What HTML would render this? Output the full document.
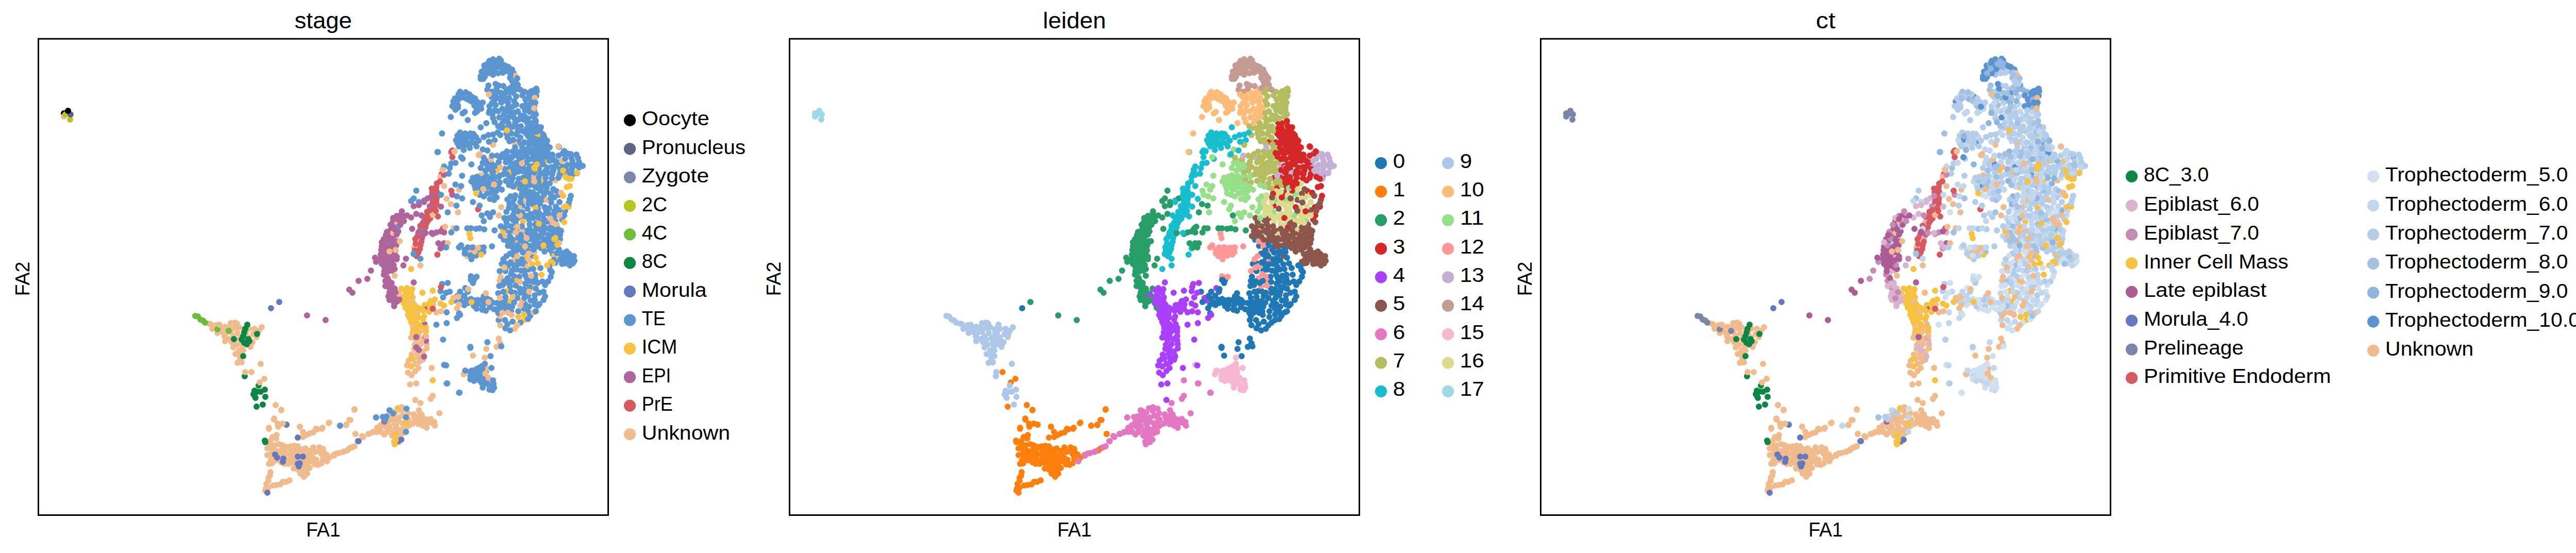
<!DOCTYPE html><html><head><meta charset="utf-8"><style>html,body{margin:0;padding:0;background:#fff;width:5045px;height:1073px;overflow:hidden}svg{display:block}</style></head><body><svg width="5045" height="1073" viewBox="0 0 5045 1073" font-family='"Liberation Sans", sans-serif' fill="#000"><defs><clipPath id="c0"><rect x="74.5" y="75.3" width="1106" height="924.2"/></clipPath><clipPath id="c1"><rect x="1532.5" y="75.3" width="1106" height="924.2"/></clipPath><clipPath id="c2"><rect x="2990.5" y="75.3" width="1106" height="924.2"/></clipPath></defs><g clip-path="url(#c0)" fill="none" stroke-width="12" stroke-linecap="round"><path stroke="#6cbd3a" d="M384 614h0"/><path stroke="#5b96d0" d="M1007 232h0M961 357h0M930 361h0M957 115h0M887 192h0M995 207h0M1024 476h0M920 719h0M1038 582h0M926 483h0M955 178h0M1049 481h0M1039 199h0M1028 255h0M1085 315h0M1082 504h0M927 582h0M1000 170h0M1063 296h0M1078 510h0M940 445h0M1003 261h0M1011 224h0M1034 460h0M842 408h0M996 164h0M1015 490h0M983 174h0M918 734h0M956 125h0M1019 590h0M1002 187h0M992 353h0M994 305h0M988 250h0M1041 256h0M1004 424h0M934 211h0M990 556h0M972 180h0M754 469h0M1011 525h0M976 135h0M1041 287h0M1041 186h0M890 183h0M979 233h0M889 205h0M1048 395h0M998 229h0M1061 372h0M925 716h0M970 191h0M925 599h0M958 745h0M968 166h0M939 588h0M1040 478h0M970 354h0M951 346h0M1014 399h0M803 493h0M969 114h0M1028 217h0M986 199h0M1008 537h0M947 588h0M1118 321h0M963 121h0M1072 338h0M1073 493h0M977 338h0M1003 245h0M985 540h0M954 317h0M972 586h0M1035 374h0M1018 178h0M1002 173h0M995 294h0M918 493h0M914 536h0M998 386h0M965 302h0M1021 363h0M1014 286h0M1001 489h0M909 281h0M989 342h0M939 381h0M965 179h0M950 749h0M1054 283h0M1033 187h0M956 757h0M1078 429h0M1030 193h0M939 575h0M1131 322h0M1041 172h0M1014 305h0M984 597h0M1006 333h0M1026 279h0M968 621h0M927 198h0M1067 445h0M1019 533h0M924 444h0M943 603h0M990 492h0M1008 312h0M1028 545h0M1041 314h0M947 363h0M1020 330h0M1046 327h0M1039 392h0M998 536h0M959 136h0M913 259h0M1072 300h0M1032 477h0M962 204h0M902 268h0M946 743h0M977 600h0M1020 193h0M984 294h0M946 174h0M1038 260h0M1033 390h0M917 725h0M967 569h0M1025 605h0M889 209h0M1050 447h0M1050 277h0M1028 323h0M920 594h0M1066 404h0M1122 307h0M896 278h0M948 166h0M911 491h0M950 215h0M1061 281h0M1029 359h0M1028 345h0M1031 177h0M956 336h0M982 138h0M931 713h0M1015 345h0M1038 573h0M1027 186h0M1006 275h0M951 386h0M1005 165h0M1027 337h0M970 526h0M1115 506h0M1020 448h0M943 722h0"/><path stroke="#b0649c" d="M781 418h0M747 488h0M765 457h0M770 498h0M746 518h0M759 445h0M765 594h0M761 525h0M760 549h0M771 585h0M841 379h0M758 478h0M774 575h0M763 483h0M756 582h0M752 516h0M757 501h0M741 478h0M761 473h0M834 400h0"/><path stroke="#d65a62" d="M819 447h0M809 497h0M850 420h0M847 388h0M840 392h0"/><path stroke="#f0bb8d" d="M806 706h0M437 634h0M547 880h0M805 669h0M486 673h0M999 279h0M666 877h0M498 654h0M581 877h0M933 340h0M843 819h0M828 668h0M822 689h0M453 674h0M943 715h0M814 702h0M769 836h0M576 893h0M799 728h0M812 649h0M773 818h0M765 857h0M799 688h0M569 886h0M970 545h0M522 900h0M783 806h0M586 872h0M569 878h0M1002 469h0M618 902h0M474 655h0M464 680h0M970 613h0M608 839h0M804 808h0M603 895h0M1078 350h0M555 935h0M537 875h0M468 688h0M775 851h0M777 834h0M746 820h0M793 814h0M596 903h0M628 877h0M814 806h0M555 881h0M806 720h0M586 898h0"/><path stroke="#f7c242" d="M797 598h0M801 651h0M787 583h0M1002 545h0M779 583h0M1041 337h0M965 331h0M810 610h0M827 643h0M776 575h0M801 577h0M783 576h0M787 597h0M1057 480h0M807 624h0M808 634h0M1017 621h0M1072 440h0"/><path stroke="#6cbd3a" d="M389 620h0"/><path stroke="#5b96d0" d="M1025 573h0M1087 464h0M978 465h0M922 278h0M970 341h0M1010 568h0M978 222h0M1056 452h0M986 477h0M901 282h0M969 123h0M1002 452h0M1039 533h0M1055 464h0M1075 451h0M969 228h0M1077 446h0M1082 417h0M1005 254h0M1099 344h0M1052 296h0M935 743h0M980 328h0M1086 408h0M1029 272h0M997 495h0M941 706h0M1085 484h0M901 592h0M1019 371h0M1012 280h0M1036 548h0M1054 387h0M1039 363h0M986 516h0M1025 351h0M981 511h0M985 629h0M1022 380h0M1044 405h0M1018 276h0M944 341h0M1079 322h0M1028 464h0M1019 470h0M952 128h0M940 127h0M1043 473h0M996 427h0M993 545h0M983 431h0M1050 266h0M972 458h0M1004 484h0M962 163h0M1038 591h0M1021 341h0M1037 385h0M979 546h0M976 141h0M979 423h0M989 179h0M936 716h0M1074 331h0M1056 293h0M967 362h0M1057 488h0M964 172h0M1039 437h0M1049 431h0M926 216h0M936 710h0M931 443h0M1050 247h0M1084 302h0M1008 295h0M960 237h0M967 607h0M994 525h0M1043 442h0M994 135h0M998 219h0M992 604h0M1023 387h0M991 381h0M1099 330h0M957 229h0M974 512h0M989 139h0M1000 286h0M990 325h0M1047 385h0M956 587h0M956 221h0M1071 346h0M938 153h0M1035 183h0M949 356h0M1040 252h0M1027 180h0M1006 461h0M1062 325h0M983 497h0M937 595h0M1026 523h0M942 352h0M924 496h0M1027 207h0M1002 297h0M956 122h0M1124 315h0M957 145h0M895 271h0M1037 281h0M974 248h0M979 195h0M989 214h0M1067 286h0M915 503h0M938 489h0M959 388h0M1056 378h0M976 125h0M987 228h0M1049 288h0M1050 370h0M930 738h0M991 222h0M915 352h0M1035 226h0M944 239h0M945 579h0M1091 426h0M1037 175h0M986 451h0M924 735h0M984 590h0M888 278h0M937 752h0M980 621h0M1042 378h0M1070 461h0M1035 397h0M964 321h0M1006 604h0M1113 337h0M967 216h0"/><path stroke="#b0649c" d="M761 463h0M766 560h0M754 544h0M765 468h0M745 464h0M770 419h0M782 424h0M775 581h0M766 436h0M824 629h0M759 519h0M763 429h0M758 458h0M827 661h0M754 575h0M748 545h0M773 449h0M766 522h0M741 512h0M748 469h0M757 451h0M751 483h0M812 452h0M761 564h0M746 502h0"/><path stroke="#d65a62" d="M847 385h0M816 476h0M823 422h0"/><path stroke="#f0bb8d" d="M812 823h0M525 855h0M521 946h0M590 925h0M593 870h0M526 893h0M653 880h0M828 830h0M521 927h0M620 868h0M492 648h0M517 939h0M571 865h0M836 820h0M565 873h0M466 656h0M544 940h0M771 432h0M808 660h0M828 676h0M593 896h0M553 874h0M516 948h0M469 665h0M1008 403h0M583 919h0M589 918h0M525 916h0M547 887h0M746 843h0M601 875h0M461 646h0M422 646h0M594 912h0M590 905h0M546 897h0M1035 558h0M412 638h0M578 911h0M456 660h0M819 658h0M760 798h0M998 505h0M437 662h0M448 627h0M459 669h0M634 882h0M469 703h0M804 480h0M519 870h0M436 653h0M752 838h0M601 841h0M562 932h0M1091 312h0M619 875h0M792 802h0M820 682h0M578 866h0M971 324h0M810 687h0M763 452h0M981 457h0M813 694h0M420 631h0M616 833h0M787 835h0M597 888h0M781 841h0M582 889h0"/><path stroke="#f7c242" d="M976 449h0M990 334h0M801 645h0M980 587h0M784 589h0M1058 313h0M1076 496h0M824 592h0M772 792h0M802 637h0M984 565h0M1003 363h0M827 636h0"/><path stroke="#6cbd3a" d="M379 613h0M394 622h0"/><path stroke="#5b96d0" d="M964 588h0M1047 306h0M1021 259h0M1063 430h0M1084 345h0M994 595h0M914 580h0M916 268h0M946 124h0M998 515h0M1050 473h0M788 810h0M1094 506h0M893 257h0M945 137h0M1017 463h0M1077 312h0M961 131h0M988 403h0M986 598h0M1112 511h0M1080 371h0M920 543h0M1030 248h0M996 322h0M937 316h0M1018 354h0M933 148h0M972 439h0M1014 332h0M1010 267h0M985 387h0M1035 322h0M960 194h0M1048 255h0M978 588h0M884 213h0M968 599h0M988 423h0M1056 426h0M883 583h0M1017 599h0M1074 367h0M1044 422h0M1011 358h0M932 724h0M1029 330h0M969 130h0M1043 294h0M926 722h0M1074 480h0M991 509h0M990 171h0M960 214h0M1086 392h0M912 721h0M908 588h0M981 526h0M1059 443h0M967 245h0M1109 500h0M950 206h0M1028 295h0M1062 304h0M1090 497h0M1020 508h0M1043 464h0M1039 233h0M1030 383h0M980 594h0M961 186h0M969 555h0M959 350h0M1110 328h0M1068 485h0M1040 434h0M959 343h0M977 503h0M971 130h0M916 188h0M1030 415h0M946 313h0M773 440h0M893 566h0M925 352h0M980 441h0M1040 245h0M997 142h0M1018 225h0M1048 264h0M1041 302h0M1002 203h0M1026 287h0M1030 239h0M891 284h0M918 549h0M1049 336h0M1095 418h0M925 210h0M1033 496h0M1001 554h0M1025 487h0M972 305h0M981 576h0M948 328h0M1040 295h0M968 343h0M939 361h0M1035 279h0M1003 162h0M931 378h0M989 396h0M1047 253h0M1009 560h0M959 752h0M1025 264h0M1064 477h0M906 582h0M1057 338h0M1101 320h0M903 259h0M1038 286h0M1109 345h0M967 142h0M996 180h0M1006 505h0M972 117h0M1011 467h0M1075 419h0M1053 260h0M1067 312h0M928 489h0M1042 457h0M982 583h0M1002 445h0M951 582h0M946 375h0M1049 458h0M1046 319h0M896 586h0M1058 442h0M935 368h0M993 471h0M913 730h0M1025 454h0M905 274h0M990 314h0M954 188h0M1014 412h0M1094 338h0"/><path stroke="#b0649c" d="M748 494h0M770 503h0M764 499h0M766 493h0M775 419h0M765 588h0M756 559h0M750 507h0M764 514h0M770 455h0M755 550h0"/><path stroke="#d65a62" d="M835 424h0M805 486h0M826 441h0M857 338h0M829 411h0M815 483h0M806 464h0M810 459h0M844 416h0M839 373h0M848 356h0"/><path stroke="#f0bb8d" d="M775 810h0M537 844h0M627 871h0M814 814h0M564 866h0M801 631h0M1081 436h0M591 881h0M753 822h0M891 591h0M448 644h0M624 899h0M811 604h0M828 822h0M1037 346h0M440 645h0M821 698h0M537 893h0M779 797h0M595 844h0M460 628h0M536 851h0M1000 147h0M1021 517h0M780 790h0M766 822h0M841 591h0M680 869h0M999 638h0M993 611h0M674 874h0M1083 498h0M529 870h0M1013 584h0M806 815h0M406 628h0M971 631h0M647 883h0M556 867h0M548 864h0M549 935h0M445 636h0M552 900h0M596 919h0M521 933h0M530 886h0M445 658h0M761 845h0M494 638h0M979 519h0M466 695h0M804 650h0M911 484h0M1009 547h0M547 873h0M942 728h0M464 635h0M767 849h0M732 838h0M1013 449h0M844 826h0M763 836h0M607 888h0M502 642h0M537 941h0"/><path stroke="#f7c242" d="M1033 513h0M805 601h0M1053 353h0M1021 500h0M1017 610h0M790 559h0M779 560h0M812 629h0M800 561h0M811 597h0M1006 615h0M792 564h0M798 711h0M1043 263h0M792 611h0M800 607h0M1039 404h0M836 584h0M817 634h0M934 494h0"/><path stroke="#6cbd3a" d="M398 626h0"/><path stroke="#5b96d0" d="M1071 324h0M893 178h0M1013 503h0M1064 335h0M1087 456h0M900 291h0M1036 176h0M957 333h0M1059 297h0M1027 595h0M995 465h0M1037 256h0M953 130h0M936 732h0M906 192h0M1057 402h0M1006 323h0M1109 306h0M992 532h0M1042 441h0M923 367h0M1026 395h0M1032 453h0M999 568h0M926 343h0M998 337h0M1067 356h0M1106 515h0M1050 447h0M1010 366h0M1034 181h0M908 265h0M1051 362h0M1004 578h0M902 485h0M1055 305h0M1081 491h0M982 216h0M1005 303h0M982 351h0M951 596h0M1062 464h0M1120 336h0M1100 497h0M972 124h0M1079 401h0M1021 203h0M1097 308h0M1104 504h0M959 377h0M959 600h0M921 360h0M993 259h0M1014 185h0M987 304h0M933 153h0M933 205h0M1041 244h0M921 205h0M789 793h0M990 641h0M922 191h0M1102 298h0M1017 292h0M1011 456h0M1023 297h0M990 459h0M1016 232h0M956 367h0M915 277h0M996 417h0M1061 365h0M1004 476h0M1037 468h0M1075 504h0M1061 289h0M990 151h0M1097 409h0M994 479h0M1059 356h0M1022 315h0M1044 365h0M958 122h0M968 600h0M983 259h0M1014 512h0M975 211h0M1037 269h0M982 315h0M985 468h0M942 736h0M1028 435h0M1069 376h0M1069 441h0M1047 272h0M1085 378h0M1035 292h0M996 448h0M1086 338h0M1048 297h0M1076 383h0M1055 262h0M908 566h0M1023 238h0M1000 379h0M940 136h0M976 299h0M1018 525h0M1010 174h0M1052 275h0M984 338h0M1114 497h0M995 393h0M885 272h0M942 331h0M1004 152h0M939 306h0M918 345h0M981 307h0M973 199h0M945 320h0M975 239h0M901 574h0M1045 353h0M998 408h0M987 549h0M1065 415h0M1022 419h0M1105 493h0M900 189h0M941 149h0M1015 422h0M1039 412h0M1025 619h0M1124 325h0M1046 344h0M1002 523h0M933 353h0M927 729h0M1029 613h0M1082 451h0M1017 561h0M1058 332h0M1097 511h0M1086 491h0M995 624h0M1004 356h0M977 167h0M1027 426h0M925 537h0M974 368h0"/><path stroke="#b0649c" d="M819 462h0M747 476h0M739 494h0M828 600h0M770 425h0M760 574h0M756 509h0M761 505h0M763 423h0M776 428h0M766 445h0M753 462h0M760 555h0M821 432h0M752 539h0M751 450h0M777 436h0M767 574h0M769 476h0M844 400h0M771 468h0M749 456h0M826 653h0"/><path stroke="#d65a62" d="M847 363h0M807 473h0M850 380h0M829 418h0M845 379h0M848 373h0M840 386h0M831 428h0"/><path stroke="#f0bb8d" d="M574 874h0M528 878h0M774 570h0M802 696h0M949 183h0M907 497h0M756 828h0M1004 497h0M1026 492h0M570 909h0M530 942h0M456 636h0M793 826h0M972 537h0M590 889h0M921 488h0M1094 402h0M855 343h0M1027 505h0M450 664h0M471 672h0M948 733h0M553 891h0M1009 418h0M801 822h0M461 704h0M740 838h0M840 417h0M774 858h0M1068 424h0M828 814h0M859 329h0M453 653h0M472 680h0M790 709h0M995 575h0M766 812h0M1061 388h0M1036 606h0M772 843h0M953 309h0M1038 190h0M1085 472h0M540 881h0M821 811h0M1037 489h0M639 888h0M586 912h0M473 639h0M602 882h0M800 584h0M1016 389h0M490 664h0M528 899h0M816 668h0M483 655h0M1010 593h0M481 666h0M542 862h0M757 815h0M533 864h0M781 821h0"/><path stroke="#f7c242" d="M1015 430h0M991 584h0M809 650h0M1040 500h0M812 678h0M793 589h0M795 617h0M792 602h0M798 568h0M788 571h0M791 578h0M803 616h0M785 563h0M817 600h0"/><path stroke="#5b96d0" d="M887 199h0M981 249h0M1000 401h0M1068 470h0M1001 316h0M955 200h0M914 443h0M1011 245h0M1028 444h0M987 239h0M1031 199h0M991 146h0M940 745h0M1039 541h0M1057 268h0M988 359h0M919 260h0M1054 319h0M1037 309h0M955 302h0M1076 471h0M902 492h0M1111 313h0M1032 265h0M977 189h0M927 590h0M1010 392h0M1000 238h0M992 566h0M904 179h0M903 559h0M1005 216h0M1106 338h0M1027 181h0M925 284h0M929 273h0M936 601h0M950 756h0M950 142h0M1062 273h0M933 247h0M990 595h0M977 566h0M913 496h0M972 594h0M981 637h0M1018 578h0M1092 324h0M1092 298h0M1012 485h0M892 191h0M1060 289h0M816 444h0M994 157h0M1020 550h0M1087 328h0M961 124h0M1035 522h0M917 198h0M935 139h0M1018 297h0M1013 439h0M912 287h0M1072 306h0M1014 206h0M1069 385h0M1037 215h0M1037 335h0M953 374h0M1100 488h0M1045 294h0M1110 320h0M998 196h0M1065 456h0M1034 299h0M985 267h0M880 197h0M1030 583h0M1076 410h0M1091 512h0M983 411h0M950 118h0M1007 347h0M1037 206h0M1013 376h0M941 142h0M982 128h0M980 181h0M1054 418h0M1057 473h0M996 271h0M989 274h0M995 346h0M1022 539h0M1036 484h0M920 583h0M968 314h0M1028 557h0M948 133h0M1057 279h0M1059 345h0M1015 324h0M1042 177h0M1037 355h0M1094 491h0M898 186h0M1042 271h0M914 543h0M998 486h0M1019 214h0M911 183h0M1025 230h0M912 195h0M1029 309h0M1052 312h0M997 330h0M1060 409h0M1054 437h0M1084 445h0M949 124h0M998 587h0M935 582h0M966 119h0M888 263h0M1011 383h0M996 362h0M1048 288h0M1048 298h0M1005 513h0M995 246h0M893 580h0M964 383h0M1024 405h0M991 439h0M924 266h0M1015 478h0M1013 254h0M1001 434h0M907 443h0M1089 448h0M957 738h0M986 207h0M1028 372h0M976 553h0M915 587h0M1010 626h0M888 574h0M987 130h0M1038 448h0M963 371h0M1040 275h0M932 481h0M988 190h0M1035 423h0M1018 569h0M883 191h0M936 347h0M957 324h0M896 264h0M1022 304h0M1042 283h0M1070 393h0M1088 503h0M1023 249h0M1005 410h0M878 206h0M1046 413h0"/><path stroke="#b0649c" d="M748 555h0M753 527h0M762 489h0M745 533h0M763 579h0M746 526h0M740 485h0M759 494h0M756 568h0M768 567h0M784 429h0M738 503h0M741 470h0M768 486h0M753 498h0M758 436h0"/><path stroke="#d65a62" d="M847 395h0M854 352h0M822 455h0M816 438h0M844 404h0M847 394h0M828 433h0M818 469h0M846 409h0M834 408h0M847 371h0M812 490h0"/><path stroke="#f0bb8d" d="M569 898h0M563 892h0M627 890h0M635 895h0M986 607h0M612 877h0M798 655h0M817 642h0M970 578h0M579 903h0M750 813h0M608 868h0M563 882h0M792 723h0M1004 631h0M477 647h0M483 638h0M614 892h0M529 848h0M975 607h0M577 883h0M748 828h0M919 480h0M601 908h0M756 488h0M793 700h0M525 863h0M524 923h0M624 881h0M588 848h0M812 714h0M804 677h0M1031 535h0M821 826h0M1027 566h0M428 635h0M457 687h0M739 825h0M519 883h0M820 818h0M431 644h0M611 901h0M757 805h0M836 813h0M784 829h0M767 801h0M515 952h0M560 900h0M736 831h0M769 828h0"/><path stroke="#f7c242" d="M821 620h0M833 605h0M798 625h0M822 603h0M811 616h0M788 821h0M832 590h0M835 597h0M1076 464h0M804 591h0M810 643h0M823 614h0M924 375h0"/><path stroke="#0b8744" d="M472 652h0M499 760h0M474 645h0M472 691h0M475 730h0M476 638h0"/><path stroke="#5b96d0" d="M823 389h0M929 207h0M960 272h0M886 399h0M873 566h0M922 219h0M856 378h0M1064 546h0M867 627h0M855 565h0M1071 528h0M1055 566h0M887 381h0M1040 560h0M891 480h0M937 199h0M869 549h0M850 295h0M873 326h0M971 262h0M955 478h0M1047 568h0M939 266h0M858 551h0"/><path stroke="#b0649c" d="M720 525h0M878 378h0M847 451h0M862 472h0M746 818h0M684 568h0M862 451h0M803 400h0M855 482h0"/><path stroke="#6479be" d="M578 886h0M556 824h0M773 856h0M578 900h0"/><path stroke="#d65a62" d="M876 295h0M860 443h0"/><path stroke="#f0bb8d" d="M964 673h0M672 824h0M546 796h0M522 832h0M880 443h0M942 725h0M887 598h0M918 690h0M840 768h0M862 361h0M973 402h0M918 690h0M880 578h0M705 848h0M836 774h0M816 782h0M901 726h0M869 472h0M847 606h0M838 714h0M948 586h0M513 735h0M535 786h0M944 677h0M532 814h0M803 804h0M889 412h0"/><path stroke="#f7c242" d="M1055 476h0M984 253h0M840 564h0M798 696h0M855 589h0M798 522h0M1069 508h0"/><path stroke="#6cbd3a" d="M444 642h0M422 639h0"/><path stroke="#0b8744" d="M480 630h0M498 789h0M514 855h0M482 658h0M474 665h0M494 758h0M515 858h0"/><path stroke="#5b96d0" d="M920 199h0M862 323h0M1049 520h0M933 326h0M898 220h0M884 358h0M816 502h0M867 744h0M1095 293h0M898 308h0M897 341h0M876 317h0M1044 549h0M876 451h0M948 262h0M871 337h0M957 412h0M952 691h0M917 480h0M913 736h0M756 796h0M939 429h0M1047 590h0M869 412h0M920 739h0"/><path stroke="#b0649c" d="M678 562h0M813 450h0M813 679h0M855 449h0M596 612h0M823 692h0M808 415h0"/><path stroke="#000000" d="M124 220h0"/><path stroke="#6479be" d="M580 905h0M578 849h0M556 824h0M534 882h0"/><path stroke="#d65a62" d="M876 370h0M928 406h0M878 305h0"/><path stroke="#f0bb8d" d="M796 746h0M680 815h0M909 561h0M582 828h0M676 872h0M968 657h0M723 839h0M1037 352h0M900 726h0M539 822h0M703 846h0M971 666h0M938 367h0M957 281h0M813 796h0M626 830h0M672 825h0M959 358h0M1001 451h0M409 629h0M827 652h0M768 485h0M806 776h0M1004 440h0M968 418h0"/><path stroke="#f7c242" d="M1120 335h0M1073 511h0M862 593h0M913 462h0M1044 511h0"/><path stroke="#b5c61f" d="M136 232h0"/><path stroke="#0b8744" d="M479 668h0M454 658h0M502 748h0M496 772h0M469 659h0"/><path stroke="#5b96d0" d="M803 492h0M866 709h0M1068 524h0M813 392h0M915 319h0M1108 299h0M949 275h0M660 826h0M868 744h0M895 476h0M1038 199h0M847 630h0M803 385h0M931 399h0M916 719h0M903 719h0M891 608h0M897 385h0M946 664h0M937 290h0M862 708h0M1106 387h0M895 305h0M1044 593h0M973 672h0M1042 245h0M730 810h0"/><path stroke="#b0649c" d="M696 545h0M818 418h0M840 454h0M830 385h0M780 410h0M858 480h0M823 392h0M800 444h0"/><path stroke="#6479be" d="M519 956h0M588 886h0M779 853h0M582 899h0M696 856h0"/><path stroke="#d65a62" d="M840 599h0M849 494h0M838 366h0"/><path stroke="#f0bb8d" d="M928 481h0M820 568h0M808 744h0M716 842h0M776 468h0M816 515h0M725 838h0M504 742h0M456 626h0M864 440h0M648 884h0M124 226h0M882 293h0M941 694h0M1086 418h0M891 368h0M1089 374h0M613 832h0"/><path stroke="#f7c242" d="M1037 325h0M1109 347h0M1093 380h0M766 862h0M1106 361h0M1093 331h0M820 568h0M1100 363h0M840 738h0M876 586h0M806 654h0"/><path stroke="#7a87ac" d="M133 218h0"/><path stroke="#b5c61f" d="M127 222h0"/><path stroke="#0b8744" d="M499 648h0M492 765h0M484 662h0M515 770h0M506 760h0M494 768h0M510 785h0"/><path stroke="#5b96d0" d="M849 295h0M893 611h0M763 802h0M1096 294h0M892 762h0M884 316h0M902 217h0M957 261h0M1040 235h0M808 370h0M913 675h0M939 480h0M1040 604h0M908 480h0M788 838h0M1042 255h0M875 227h0M1085 285h0M1040 222h0M951 421h0M860 577h0M946 414h0M867 606h0M966 257h0M960 447h0"/><path stroke="#b0649c" d="M790 418h0M851 472h0M730 508h0M798 422h0M862 339h0M788 502h0"/><path stroke="#6479be" d="M542 586h0M538 888h0M526 598h0M550 890h0"/><path stroke="#5b6480" d="M137 222h0"/><path stroke="#d65a62" d="M856 557h0"/><path stroke="#f0bb8d" d="M476 722h0M658 879h0M678 815h0M929 301h0M1073 432h0M683 868h0M875 396h0M625 832h0M860 330h0M931 299h0M549 822h0M582 828h0M540 828h0M688 866h0M889 576h0M1084 284h0M1037 210h0M766 535h0M668 876h0M548 822h0M732 830h0M853 802h0M690 842h0M426 630h0"/><path stroke="#f7c242" d="M766 844h0M1095 431h0M1051 533h0M911 454h0M1019 352h0M1082 475h0M1104 401h0M1038 327h0M768 854h0M1046 434h0"/><path stroke="#0b8744" d="M514 756h0"/><path stroke="#5b96d0" d="M750 808h0M660 826h0M748 814h0M895 361h0M1069 537h0M908 233h0M918 392h0M1053 546h0M1108 380h0M887 617h0M858 259h0M860 659h0M866 568h0M913 673h0M954 714h0M949 219h0M1066 517h0M1058 575h0M730 810h0M1119 300h0M946 292h0M891 762h0M886 443h0M935 418h0M743 809h0M798 390h0M1055 582h0M1104 394h0M860 659h0M866 480h0M1058 553h0"/><path stroke="#b0649c" d="M856 401h0M632 621h0M808 654h0M826 452h0M813 398h0M713 541h0M838 380h0M728 500h0M803 548h0M808 674h0M838 452h0M783 515h0"/><path stroke="#000000" d="M132 215h0"/><path stroke="#6479be" d="M549 896h0M695 856h0"/><path stroke="#d65a62" d="M878 292h0"/><path stroke="#f0bb8d" d="M1022 462h0M688 794h0M522 830h0M690 842h0M856 604h0M818 804h0M535 786h0M639 820h0M638 821h0M508 635h0M546 795h0M715 842h0M488 722h0M588 838h0M882 294h0M867 386h0M943 569h0M1019 478h0M506 706h0M1013 317h0M688 795h0M532 812h0"/><path stroke="#f7c242" d="M1078 462h0M1104 347h0M836 585h0M1097 343h0M1099 400h0M1042 319h0M1062 515h0M915 586h0M844 581h0"/></g><g clip-path="url(#c1)" fill="none" stroke-width="12" stroke-linecap="round"><path stroke="#1f77b4" d="M2496 582h0M2385 582h0M2473 490h0M2477 590h0M2469 525h0M2383 599h0M2397 588h0M2466 537h0M2405 588h0M2430 586h0M2459 489h0M2428 545h0M2397 575h0M2442 597h0M2426 621h0M2477 533h0M2401 603h0M2448 492h0M2486 545h0M2428 613h0M2435 600h0M2425 569h0M2475 621h0M2483 605h0M2378 594h0M2496 573h0"/><path stroke="#ff7f0e" d="M2005 880h0M2039 877h0M2034 893h0M2027 886h0M1980 900h0M2044 872h0M2027 878h0M2076 902h0M2066 839h0M2061 895h0M2013 935h0M1995 875h0M2054 903h0M2086 877h0M2013 881h0M2044 898h0"/><path stroke="#ffbb78" d="M2345 192h0M2453 207h0M2441 174h0M2392 211h0M2430 180h0M2348 183h0M2437 233h0M2347 205h0M2428 191h0M2444 199h0M2423 179h0M2385 198h0M2420 204h0M2347 209h0M2408 215h0"/><path stroke="#98df8a" d="M2419 357h0M2388 361h0M2391 340h0M2409 346h0M2412 317h0M2397 381h0M2536 429h0M2405 363h0M2414 336h0M2409 386h0"/><path stroke="#ff9896" d="M2384 483h0M2448 556h0M2460 545h0M2443 540h0M2376 493h0M2372 536h0M2456 536h0M2369 491h0M2428 526h0"/><path stroke="#c5b0d5" d="M2576 321h0M2589 322h0M2499 314h0M2486 323h0M2580 307h0M2485 337h0"/><path stroke="#c49c94" d="M2415 115h0M2413 178h0M2458 170h0M2454 164h0M2414 125h0M2434 135h0M2426 166h0M2427 114h0M2421 121h0M2417 136h0M2404 174h0M2406 166h0M2440 138h0M2463 165h0"/><path stroke="#f7b6d2" d="M2378 719h0M2376 734h0M2401 715h0M2383 716h0M2416 745h0M2408 749h0M2414 757h0M2404 743h0M2375 725h0M2389 713h0M2401 722h0"/><path stroke="#dbdb8d" d="M2506 395h0M2519 372h0M2456 386h0M2497 392h0M2491 390h0M2524 404h0"/><path stroke="#279e68" d="M2239 418h0M2205 488h0M2223 457h0M2398 445h0M2228 498h0M2212 469h0M2204 518h0M2217 445h0M2223 594h0M2219 525h0M2218 549h0M2241 576h0M2229 585h0M2216 478h0M2232 575h0M2221 483h0M2214 582h0M2245 597h0M2210 516h0M2382 444h0M2215 501h0M2199 478h0M2219 473h0"/><path stroke="#d62728" d="M2486 255h0M2543 315h0M2521 296h0M2499 256h0M2499 287h0M2499 337h0M2472 399h0M2530 338h0M2493 374h0M2479 363h0M2512 283h0M2484 279h0M2504 327h0M2530 300h0M2536 350h0M2496 260h0M2508 277h0M2519 281h0M2486 345h0M2473 345h0M2464 275h0"/><path stroke="#aa40fc" d="M2264 706h0M2255 598h0M2263 669h0M2259 651h0M2245 583h0M2286 668h0M2280 689h0M2237 583h0M2272 702h0M2268 610h0M2257 728h0M2270 649h0M2285 643h0M2234 575h0M2259 577h0M2257 688h0M2265 624h0M2266 634h0M2264 720h0"/><path stroke="#8c564b" d="M2482 476h0M2507 481h0M2540 504h0M2536 510h0M2492 460h0M2462 424h0M2498 478h0M2531 493h0M2460 469h0M2525 445h0M2515 480h0M2490 477h0M2508 447h0M2530 440h0M2573 506h0M2478 448h0"/><path stroke="#e377c2" d="M2124 877h0M2301 819h0M2227 836h0M2231 818h0M2223 857h0M2241 806h0M2262 808h0M2233 851h0M2235 834h0M2204 820h0M2251 814h0M2272 806h0"/><path stroke="#b5bd61" d="M2465 232h0M2497 199h0M2461 261h0M2469 224h0M2457 279h0M2460 187h0M2450 353h0M2452 305h0M2446 250h0M2499 186h0M2456 229h0M2423 331h0M2428 354h0M2486 217h0M2435 338h0M2461 245h0M2476 178h0M2460 173h0M2453 294h0M2423 302h0M2472 286h0M2447 342h0M2491 187h0M2488 193h0M2499 172h0M2472 305h0M2464 333h0M2466 312h0M2478 330h0M2478 193h0M2442 294h0M2487 359h0M2489 177h0M2485 186h0"/><path stroke="#17becf" d="M2277 447h0M2300 408h0M2267 497h0M2261 493h0M2299 379h0M2367 281h0M2308 420h0M2305 388h0M2371 259h0M2360 268h0M2298 392h0M2354 278h0M2292 400h0"/><path stroke="#aec7e8" d="M1895 634h0M1842 614h0M1944 673h0M1956 654h0M1911 674h0M1932 655h0M1922 680h0M1926 688h0"/><path stroke="#1f77b4" d="M2483 573h0M2436 465h0M2468 568h0M2444 477h0M2497 533h0M2455 495h0M2359 592h0M2494 548h0M2439 511h0M2443 629h0M2451 545h0M2496 591h0M2437 546h0M2438 587h0M2493 558h0M2425 607h0M2456 505h0M2452 525h0M2450 604h0M2432 512h0M2414 587h0M2395 595h0M2442 565h0M2484 523h0M2403 579h0M2442 590h0M2438 621h0M2464 604h0"/><path stroke="#ff7f0e" d="M1983 855h0M1979 946h0M2048 925h0M2051 870h0M1984 893h0M1979 927h0M2078 868h0M1975 939h0M2029 865h0M2023 873h0M2002 940h0M2051 896h0M2011 874h0M1974 948h0M2041 919h0M2047 918h0M1983 916h0M2005 887h0M2059 875h0M2052 912h0M2048 905h0M2004 897h0M2036 911h0M2092 882h0M1977 870h0M2059 841h0M2020 932h0M2077 875h0M2036 866h0M2074 833h0M2055 888h0M2040 889h0"/><path stroke="#ffbb78" d="M2436 222h0M2427 228h0M2447 179h0M2384 216h0M2418 237h0M2415 229h0M2414 221h0M2437 195h0M2447 214h0M2445 228h0M2449 222h0M2402 239h0M2425 216h0"/><path stroke="#98df8a" d="M2402 341h0M2495 385h0M2425 362h0M2449 381h0M2407 356h0M2400 352h0M2417 388h0M2514 378h0M2373 352h0"/><path stroke="#ff9896" d="M2444 516h0M2462 484h0M2441 497h0M2382 496h0M2373 503h0M2396 489h0"/><path stroke="#c5b0d5" d="M2510 296h0M2479 341h0M2557 330h0M2458 286h0M2549 312h0M2582 315h0M2571 337h0"/><path stroke="#c49c94" d="M2427 123h0M2410 128h0M2398 127h0M2420 163h0M2434 141h0M2422 172h0M2452 135h0M2447 139h0M2396 153h0M2414 122h0M2415 145h0M2434 125h0"/><path stroke="#f7b6d2" d="M2393 743h0M2399 706h0M2394 716h0M2394 710h0M2388 738h0M2382 735h0M2395 752h0"/><path stroke="#dbdb8d" d="M2540 417h0M2477 371h0M2512 387h0M2480 380h0M2502 405h0M2466 403h0M2497 437h0M2481 387h0M2500 378h0M2493 397h0"/><path stroke="#279e68" d="M2219 463h0M2224 560h0M2212 544h0M2223 468h0M2203 464h0M2228 419h0M2240 424h0M2229 432h0M2233 581h0M2224 436h0M2389 443h0M2217 519h0M2221 429h0M2216 458h0M2212 575h0M2206 545h0M2231 449h0M2224 522h0M2199 512h0M2206 469h0M2215 451h0M2221 452h0M2209 483h0M2219 564h0M2204 502h0"/><path stroke="#d62728" d="M2557 344h0M2487 272h0M2476 276h0M2537 322h0M2508 266h0M2532 331h0M2514 293h0M2507 431h0M2516 313h0M2508 247h0M2542 302h0M2529 346h0M2498 252h0M2520 325h0M2495 281h0M2525 286h0M2507 288h0M2508 370h0M2549 426h0"/><path stroke="#aa40fc" d="M2259 645h0M2266 660h0M2286 676h0M2282 629h0M2242 589h0M2277 658h0M2282 592h0M2285 661h0M2260 637h0M2278 682h0M2268 687h0M2271 694h0M2285 636h0"/><path stroke="#8c564b" d="M2545 464h0M2514 452h0M2460 452h0M2513 464h0M2434 449h0M2533 451h0M2535 446h0M2544 408h0M2543 484h0M2497 363h0M2486 464h0M2477 470h0M2501 473h0M2454 427h0M2441 431h0M2430 458h0M2437 423h0M2515 488h0M2534 496h0M2501 442h0M2505 385h0M2464 461h0M2439 457h0M2444 451h0M2528 461h0"/><path stroke="#e377c2" d="M2270 823h0M2111 880h0M2286 830h0M2294 820h0M2204 843h0M2218 798h0M2230 792h0M2210 838h0M2250 802h0M2245 835h0M2239 841h0"/><path stroke="#b5bd61" d="M2428 341h0M2463 254h0M2438 328h0M2448 334h0M2470 280h0M2483 351h0M2466 295h0M2456 219h0M2448 325h0M2493 183h0M2485 180h0M2485 207h0M2460 297h0M2461 363h0M2432 248h0M2429 324h0M2493 226h0M2495 175h0M2422 321h0"/><path stroke="#17becf" d="M2380 278h0M2305 385h0M2359 282h0M2262 480h0M2274 476h0M2353 271h0M2281 422h0M2270 452h0M2346 278h0"/><path stroke="#aec7e8" d="M1847 620h0M1950 648h0M1924 656h0M1927 665h0M1919 646h0M1880 646h0M1870 638h0M1914 660h0M1895 662h0M1906 627h0M1917 669h0M1927 703h0M1894 653h0M1878 631h0"/><path stroke="#1f77b4" d="M2422 588h0M2452 595h0M2372 580h0M2456 515h0M2491 513h0M2349 591h0M2444 598h0M2378 543h0M2479 500h0M2475 610h0M2436 588h0M2426 599h0M2475 599h0M2479 517h0M2449 509h0M2366 588h0M2439 526h0M2478 508h0M2457 638h0M2464 615h0M2451 611h0M2438 594h0M2427 555h0M2471 584h0M2429 631h0M2351 566h0M2376 549h0M2483 487h0M2439 576h0M2467 560h0M2364 582h0M2440 583h0M2467 547h0M2409 582h0M2354 586h0"/><path stroke="#ff7f0e" d="M1995 844h0M2085 871h0M2022 866h0M2049 881h0M2082 899h0M1995 893h0M2053 844h0M1994 851h0M1987 870h0M2105 883h0M2014 867h0M2006 864h0M2007 935h0M2010 900h0M2054 919h0M1979 933h0M1988 886h0M2005 873h0M2065 888h0M1995 941h0"/><path stroke="#ffbb78" d="M2418 194h0M2342 213h0M2418 214h0M2408 206h0M2419 186h0M2374 188h0M2383 210h0M2412 188h0"/><path stroke="#98df8a" d="M2446 403h0M2395 316h0M2443 387h0M2446 423h0M2417 343h0M2404 313h0M2383 352h0M2406 328h0M2426 343h0M2397 361h0M2389 378h0M2447 396h0M2404 375h0M2393 368h0M2472 412h0"/><path stroke="#ff9896" d="M2435 503h0M2459 554h0M2437 519h0M2464 505h0M2369 484h0M2386 489h0M2392 494h0M2451 471h0"/><path stroke="#c5b0d5" d="M2568 328h0M2499 302h0M2507 336h0M2559 320h0M2552 338h0"/><path stroke="#c49c94" d="M2404 124h0M2403 137h0M2419 131h0M2391 148h0M2458 147h0M2427 130h0M2448 171h0M2429 130h0M2455 142h0M2461 162h0M2425 142h0M2430 117h0"/><path stroke="#f7b6d2" d="M2390 724h0M2384 722h0M2370 721h0M2417 752h0M2400 728h0M2371 730h0"/><path stroke="#dbdb8d" d="M2521 430h0M2514 426h0M2502 422h0M2469 358h0M2544 392h0M2517 443h0M2498 434h0M2488 415h0M2497 404h0M2533 419h0M2516 442h0M2483 454h0"/><path stroke="#279e68" d="M2206 494h0M2228 503h0M2237 560h0M2222 499h0M2224 493h0M2233 419h0M2223 588h0M2231 440h0M2214 559h0M2208 507h0M2222 514h0M2228 455h0M2213 550h0"/><path stroke="#d62728" d="M2505 306h0M2479 259h0M2542 345h0M2535 312h0M2495 346h0M2538 371h0M2488 248h0M2511 353h0M2493 322h0M2506 255h0M2487 330h0M2501 294h0M2486 295h0M2520 304h0M2488 383h0M2506 264h0M2484 287h0M2488 239h0M2553 418h0M2498 295h0M2501 263h0M2493 279h0M2505 253h0M2483 264h0M2515 338h0M2496 286h0M2567 345h0M2511 260h0M2525 312h0M2504 319h0"/><path stroke="#aa40fc" d="M2259 631h0M2269 604h0M2263 601h0M2279 698h0M2248 559h0M2341 583h0M2270 629h0M2258 561h0M2299 591h0M2269 597h0M2250 564h0M2256 711h0M2250 611h0M2258 607h0M2294 584h0M2262 650h0M2275 634h0"/><path stroke="#8c564b" d="M2539 436h0M2508 473h0M2552 506h0M2475 463h0M2570 511h0M2430 439h0M2532 367h0M2532 480h0M2567 500h0M2548 497h0M2501 464h0M2541 498h0M2526 485h0M2438 441h0M2491 496h0M2522 477h0M2469 467h0M2500 457h0M2460 445h0M2507 458h0M2471 449h0"/><path stroke="#e377c2" d="M2233 810h0M2272 814h0M2246 810h0M2211 822h0M2286 822h0M2237 797h0M2238 790h0M2224 822h0M2138 869h0M2132 874h0M2264 815h0M2219 845h0M2225 849h0M2190 838h0M2302 826h0M2221 836h0"/><path stroke="#b5bd61" d="M2454 322h0M2476 354h0M2472 332h0M2468 267h0M2425 245h0M2497 233h0M2417 350h0M2498 245h0M2476 225h0M2460 203h0M2430 305h0M2454 180h0M2448 314h0"/><path stroke="#17becf" d="M2293 424h0M2263 486h0M2284 441h0M2374 268h0M2351 257h0M2315 338h0M2287 411h0M2273 483h0M2264 464h0M2268 459h0M2349 284h0M2302 416h0M2361 259h0M2297 373h0M2363 274h0M2306 356h0"/><path stroke="#aec7e8" d="M1906 644h0M1898 645h0M1918 628h0M1837 613h0M1864 628h0M1903 636h0M1903 658h0M1952 638h0M1924 695h0M1852 622h0M1922 635h0M1960 642h0"/><path stroke="#1f77b4" d="M2471 503h0M2449 584h0M2485 595h0M2462 497h0M2484 492h0M2457 568h0M2430 537h0M2462 578h0M2498 500h0M2409 596h0M2485 505h0M2417 600h0M2448 641h0M2462 476h0M2453 575h0M2494 606h0M2426 600h0M2472 512h0M2495 489h0M2366 566h0M2476 525h0M2359 574h0M2445 549h0M2468 593h0M2483 619h0M2460 523h0M2487 613h0M2475 561h0M2453 624h0"/><path stroke="#ff7f0e" d="M2032 874h0M1986 878h0M2028 909h0M1988 942h0M2048 889h0M2011 891h0M1998 881h0M2097 888h0M2044 912h0M2060 882h0M1986 899h0M2000 862h0M1991 864h0"/><path stroke="#ffbb78" d="M2351 178h0M2407 183h0M2364 192h0M2440 216h0M2391 205h0M2379 205h0M2380 191h0M2433 211h0M2431 199h0M2433 239h0M2358 189h0"/><path stroke="#98df8a" d="M2381 367h0M2384 343h0M2417 377h0M2379 360h0M2414 367h0M2502 365h0M2400 331h0M2474 389h0M2376 345h0M2403 320h0M2391 353h0M2432 368h0"/><path stroke="#ff9896" d="M2365 497h0M2450 532h0M2360 485h0M2379 488h0M2452 479h0M2443 468h0M2383 537h0"/><path stroke="#c5b0d5" d="M2567 306h0M2578 336h0M2555 308h0M2560 298h0M2439 307h0M2582 325h0"/><path stroke="#c49c94" d="M2411 130h0M2430 124h0M2391 153h0M2448 151h0M2416 122h0M2398 136h0M2468 174h0M2462 152h0M2399 149h0M2435 167h0"/><path stroke="#f7b6d2" d="M2394 732h0M2406 733h0M2400 736h0M2385 729h0"/><path stroke="#dbdb8d" d="M2473 430h0M2484 395h0M2525 356h0M2537 401h0M2467 418h0M2526 424h0M2454 417h0M2519 365h0M2486 435h0M2543 378h0M2534 383h0M2458 379h0M2453 393h0M2456 408h0M2523 415h0M2480 419h0M2473 422h0M2497 412h0M2485 426h0"/><path stroke="#279e68" d="M2205 476h0M2197 494h0M2228 425h0M2218 574h0M2214 509h0M2219 505h0M2221 423h0M2234 428h0M2224 445h0M2211 462h0M2218 555h0M2210 539h0M2209 450h0M2235 436h0M2227 476h0M2229 468h0M2207 456h0"/><path stroke="#d62728" d="M2529 324h0M2522 335h0M2517 297h0M2495 256h0M2515 402h0M2500 441h0M2509 362h0M2513 305h0M2552 402h0M2499 244h0M2481 297h0M2519 289h0M2517 356h0M2495 269h0M2505 272h0M2493 292h0M2544 338h0M2506 297h0M2513 262h0M2481 238h0M2510 275h0M2503 353h0M2504 344h0M2516 332h0"/><path stroke="#aa40fc" d="M2232 570h0M2260 696h0M2286 600h0M2267 650h0M2270 678h0M2251 589h0M2253 617h0M2250 602h0M2248 709h0M2256 568h0M2225 574h0M2246 571h0M2258 584h0M2249 578h0M2261 616h0M2274 668h0M2243 563h0M2284 653h0M2275 600h0"/><path stroke="#8c564b" d="M2545 456h0M2453 465h0M2490 453h0M2564 515h0M2508 447h0M2539 491h0M2520 464h0M2558 497h0M2562 504h0M2469 456h0M2448 459h0M2495 468h0M2533 504h0M2555 409h0M2519 388h0M2543 472h0M2527 376h0M2527 441h0M2454 448h0M2572 497h0M2563 493h0M2540 451h0M2555 511h0M2544 491h0"/><path stroke="#e377c2" d="M2214 828h0M2251 826h0M2259 822h0M2198 838h0M2232 858h0M2247 793h0M2286 814h0M2224 812h0M2230 843h0M2279 811h0M2215 815h0M2239 821h0"/><path stroke="#b5bd61" d="M2494 176h0M2415 333h0M2464 323h0M2456 337h0M2468 366h0M2492 181h0M2463 303h0M2440 351h0M2479 203h0M2451 259h0M2472 185h0M2445 304h0M2475 292h0M2474 232h0M2480 315h0M2441 259h0M2411 309h0M2496 190h0M2440 315h0M2434 299h0M2442 338h0M2397 306h0M2462 356h0"/><path stroke="#17becf" d="M2277 462h0M2358 291h0M2305 363h0M2366 265h0M2265 473h0M2308 380h0M2313 343h0M2287 418h0M2303 379h0M2298 417h0M2317 329h0M2373 277h0M2306 373h0M2279 432h0M2298 386h0M2343 272h0M2289 428h0M2302 400h0"/><path stroke="#aec7e8" d="M1914 636h0M1908 664h0M1929 672h0M1919 704h0M1911 653h0M1930 680h0M1931 639h0M1856 626h0M1948 664h0M1941 655h0M1939 666h0"/><path stroke="#1f77b4" d="M2497 541h0M2444 607h0M2428 578h0M2385 590h0M2450 566h0M2394 601h0M2448 595h0M2435 566h0M2430 594h0M2439 637h0M2476 578h0M2470 485h0M2462 631h0M2478 550h0M2493 522h0M2433 607h0M2488 583h0M2489 535h0M2485 566h0M2480 539h0M2494 484h0M2378 583h0M2486 557h0M2372 543h0M2456 486h0M2456 587h0M2393 582h0M2463 513h0M2351 580h0M2473 478h0M2434 553h0M2373 587h0M2468 626h0M2346 574h0M2476 569h0"/><path stroke="#ff7f0e" d="M2027 898h0M2021 892h0M2085 890h0M2070 877h0M2037 903h0M2066 868h0M2021 882h0M2072 892h0M1987 848h0M2035 883h0M2059 908h0M1983 863h0M1982 923h0M2082 881h0M2046 848h0M1977 883h0M2069 901h0M1973 952h0M2018 900h0"/><path stroke="#ffbb78" d="M2345 199h0M2413 200h0M2435 189h0M2362 179h0M2350 191h0M2375 198h0M2338 197h0M2438 181h0M2356 186h0M2369 183h0M2370 195h0M2444 207h0M2446 190h0M2341 191h0M2336 206h0"/><path stroke="#98df8a" d="M2446 359h0M2411 374h0M2441 411h0M2512 418h0M2454 362h0M2422 383h0M2382 375h0M2421 371h0M2394 347h0M2415 324h0"/><path stroke="#ff9896" d="M2360 492h0M2371 496h0M2377 480h0M2390 481h0"/><path stroke="#c5b0d5" d="M2413 302h0M2569 313h0M2564 338h0M2550 324h0M2568 320h0"/><path stroke="#c49c94" d="M2449 146h0M2408 142h0M2452 157h0M2419 124h0M2393 139h0M2408 118h0M2399 142h0M2440 128h0M2406 133h0M2407 124h0M2424 119h0M2445 130h0"/><path stroke="#f7b6d2" d="M2398 745h0M2408 756h0M2415 738h0"/><path stroke="#dbdb8d" d="M2458 401h0M2468 392h0M2527 385h0M2486 372h0M2463 410h0M2504 413h0"/><path stroke="#279e68" d="M2372 443h0M2206 555h0M2211 527h0M2220 489h0M2203 533h0M2214 488h0M2221 579h0M2204 526h0M2198 485h0M2217 494h0M2214 568h0M2365 443h0M2226 567h0M2242 429h0M2196 503h0M2199 470h0M2226 486h0M2211 498h0M2216 436h0"/><path stroke="#d62728" d="M2515 268h0M2512 319h0M2495 309h0M2490 265h0M2520 273h0M2550 298h0M2518 289h0M2545 328h0M2476 297h0M2530 306h0M2495 335h0M2503 294h0M2492 299h0M2534 410h0M2471 376h0M2515 279h0M2517 345h0M2495 355h0M2500 271h0M2487 309h0M2510 312h0M2506 288h0M2506 298h0M2498 275h0M2493 423h0M2480 304h0M2500 283h0M2481 249h0"/><path stroke="#aa40fc" d="M2279 620h0M2291 605h0M2256 655h0M2275 642h0M2256 625h0M2361 559h0M2250 723h0M2280 603h0M2269 616h0M2290 590h0M2293 597h0M2251 700h0M2270 714h0M2262 677h0M2262 591h0M2268 643h0M2281 614h0"/><path stroke="#8c564b" d="M2526 470h0M2486 444h0M2534 471h0M2471 439h0M2558 488h0M2523 456h0M2549 512h0M2515 473h0M2534 464h0M2552 491h0M2518 409h0M2512 437h0M2542 445h0M2469 383h0M2482 405h0M2449 439h0M2459 434h0M2547 448h0M2496 448h0M2528 393h0M2546 503h0"/><path stroke="#e377c2" d="M2093 895h0M2208 813h0M2246 821h0M2206 828h0M2279 826h0M2197 825h0M2278 818h0M2215 805h0M2294 813h0M2242 829h0M2225 801h0M2194 831h0M2227 828h0"/><path stroke="#b5bd61" d="M2439 249h0M2459 316h0M2469 245h0M2445 239h0M2489 199h0M2458 238h0M2463 216h0M2485 181h0M2472 206h0M2495 215h0M2456 196h0M2443 267h0M2465 347h0M2495 206h0M2454 271h0M2447 274h0M2453 346h0M2426 314h0M2473 324h0M2500 177h0M2477 214h0M2483 230h0M2455 330h0M2453 246h0M2471 254h0"/><path stroke="#17becf" d="M2377 260h0M2305 395h0M2383 284h0M2387 273h0M2391 247h0M2312 352h0M2274 444h0M2370 287h0M2280 455h0M2274 438h0M2302 404h0M2305 394h0M2346 263h0M2286 433h0M2276 469h0M2382 266h0M2304 409h0M2292 408h0M2354 264h0M2305 371h0M2270 490h0"/><path stroke="#aec7e8" d="M1935 647h0M1941 638h0M1886 635h0M1915 687h0M1889 644h0"/><path stroke="#1f77b4" d="M2422 673h0M2331 566h0M2345 598h0M2376 690h0M2522 546h0M2376 690h0M2529 528h0M2513 566h0M2498 560h0M2406 586h0M2505 568h0M2402 677h0"/><path stroke="#ff7f0e" d="M2036 886h0M2130 824h0M2004 796h0M1980 832h0M2014 824h0M1971 735h0M2036 900h0M1990 814h0"/><path stroke="#ffbb78" d="M2387 207h0M2380 219h0M2395 199h0"/><path stroke="#98df8a" d="M2431 402h0M2336 378h0M2345 381h0M2347 412h0"/><path stroke="#ff9896" d="M2349 480h0M2413 478h0"/><path stroke="#f7b6d2" d="M2400 725h0M2359 726h0"/><path stroke="#279e68" d="M2178 525h0M2344 399h0M2338 443h0M2305 451h0M2320 472h0M2142 568h0M2320 451h0M2327 472h0M2261 400h0M2318 443h0"/><path stroke="#aa40fc" d="M2338 578h0M2298 564h0M2256 696h0M2325 627h0M2313 565h0M2313 589h0M2327 549h0M2305 606h0M2296 714h0M2316 551h0"/><path stroke="#8c564b" d="M2513 476h0M2527 508h0"/><path stroke="#e377c2" d="M2298 768h0M2163 848h0M2294 774h0M2204 818h0M2274 782h0M2231 856h0M2261 804h0"/><path stroke="#b5bd61" d="M2442 253h0M2429 262h0"/><path stroke="#17becf" d="M2281 389h0M2418 272h0M2314 378h0M2320 361h0M2334 295h0M2308 295h0M2313 482h0M2331 326h0M2256 522h0M2397 266h0"/><path stroke="#aec7e8" d="M1930 652h0M1957 760h0M1932 645h0M1930 691h0M1933 730h0M1934 638h0M1993 786h0"/><path stroke="#1f77b4" d="M2367 561h0M2426 657h0M2507 520h0M2429 666h0M2502 549h0M2410 691h0M2502 511h0M2505 590h0"/><path stroke="#ff7f0e" d="M2138 815h0M2040 828h0M2134 872h0M1956 789h0M1997 822h0M2038 905h0M2036 849h0M1972 855h0M2014 824h0M2084 830h0M2130 825h0M1992 882h0M1973 858h0"/><path stroke="#ffbb78" d="M2378 199h0M2356 220h0"/><path stroke="#98df8a" d="M2391 326h0M2342 358h0M2334 370h0M2355 341h0M2396 367h0M2415 412h0M2417 358h0M2386 406h0M2397 429h0M2426 418h0"/><path stroke="#ff9896" d="M2371 462h0M2375 480h0"/><path stroke="#c5b0d5" d="M2578 335h0M2553 293h0"/><path stroke="#f7b6d2" d="M2358 726h0M2371 736h0M2378 739h0"/><path stroke="#9edae5" d="M1582 220h0"/><path stroke="#279e68" d="M2136 562h0M2334 451h0M2313 449h0M2054 612h0M2266 415h0M2226 485h0M2327 412h0"/><path stroke="#d62728" d="M2495 352h0"/><path stroke="#aa40fc" d="M2254 746h0M2271 679h0M2320 593h0M2281 692h0M2285 652h0M2264 776h0"/><path stroke="#8c564b" d="M2531 511h0M2459 451h0M2462 440h0"/><path stroke="#e377c2" d="M2181 839h0M2325 744h0M2161 846h0M2271 796h0M2214 796h0"/><path stroke="#b5bd61" d="M2415 281h0"/><path stroke="#17becf" d="M2320 323h0M2274 502h0M2356 308h0M2334 317h0M2271 450h0M2406 262h0M2329 337h0M2336 305h0"/><path stroke="#aec7e8" d="M1902 642h0M1938 630h0M1880 639h0M1940 658h0M1932 665h0M1952 758h0M1867 629h0"/><path stroke="#1f77b4" d="M2526 524h0M2349 608h0M2404 664h0M2502 593h0M2431 672h0M2334 586h0"/><path stroke="#ff7f0e" d="M1977 956h0M2118 826h0M2046 886h0M1962 742h0M2040 899h0M2071 832h0"/><path stroke="#98df8a" d="M2373 319h0M2389 399h0M2355 385h0M2395 290h0M2349 368h0M2353 305h0"/><path stroke="#ff9896" d="M2386 481h0M2353 476h0"/><path stroke="#c5b0d5" d="M2495 325h0M2566 299h0M2567 347h0M2551 331h0"/><path stroke="#f7b6d2" d="M2374 719h0M2361 719h0M2399 694h0M2320 708h0"/><path stroke="#dbdb8d" d="M2544 418h0"/><path stroke="#9edae5" d="M1594 232h0M1591 218h0M1582 226h0"/><path stroke="#279e68" d="M2271 392h0M2154 545h0M2261 385h0M2234 468h0M2298 454h0M2288 385h0M2238 410h0M2316 480h0M2322 440h0M2258 444h0"/><path stroke="#d62728" d="M2564 361h0M2558 363h0M2547 374h0M2500 245h0"/><path stroke="#aa40fc" d="M2324 709h0M2278 568h0M2266 744h0M2305 630h0M2278 568h0M2298 599h0M2264 654h0"/><path stroke="#8c564b" d="M2551 380h0M2564 387h0"/><path stroke="#e377c2" d="M2326 744h0M2174 842h0M2224 862h0M2237 853h0M2183 838h0M2106 884h0M2154 856h0M2298 738h0M2188 810h0"/><path stroke="#b5bd61" d="M2496 199h0"/><path stroke="#17becf" d="M2261 492h0M2407 275h0M2276 418h0M2274 515h0M2340 293h0M2307 494h0M2281 392h0M2296 366h0"/><path stroke="#aec7e8" d="M1937 668h0M1912 658h0M1960 748h0M1914 626h0M1954 772h0M1927 659h0"/><path stroke="#1f77b4" d="M2371 675h0M2509 533h0M2347 576h0M2498 604h0M1984 598h0"/><path stroke="#ff7f0e" d="M1996 888h0M2136 815h0M2083 832h0M2007 822h0M2040 828h0M1998 828h0M2006 822h0M2008 890h0M2148 842h0"/><path stroke="#ffbb78" d="M2307 295h0M2360 217h0M2333 227h0"/><path stroke="#98df8a" d="M2387 301h0M2409 421h0M2404 414h0"/><path stroke="#ff9896" d="M2369 454h0M2397 480h0M2366 480h0"/><path stroke="#dbdb8d" d="M2531 432h0"/><path stroke="#9edae5" d="M1595 222h0M1585 222h0"/><path stroke="#279e68" d="M2000 586h0M2248 418h0M2309 472h0M2333 396h0M2266 370h0M2188 508h0M2256 422h0M2224 535h0M2246 502h0M2418 447h0"/><path stroke="#d62728" d="M2554 294h0M2498 235h0M2542 284h0M2500 255h0M2562 401h0M2543 285h0M2496 327h0"/><path stroke="#aa40fc" d="M2351 611h0M2314 557h0M2318 577h0M2325 606h0"/><path stroke="#8c564b" d="M2553 431h0M2540 475h0M2504 434h0"/><path stroke="#e377c2" d="M2221 802h0M2224 844h0M2350 762h0M2116 879h0M2141 868h0M2146 866h0M2246 838h0M2126 876h0M2190 830h0M2226 854h0M2311 802h0"/><path stroke="#b5bd61" d="M2477 352h0M2495 210h0M2498 222h0"/><path stroke="#17becf" d="M2342 316h0M2415 261h0M2318 330h0M2389 299h0M2320 339h0M2424 257h0"/><path stroke="#aec7e8" d="M1934 722h0M1957 648h0M1950 765h0M1942 662h0M1973 770h0M1964 760h0M1952 768h0M1968 785h0M1884 630h0"/><path stroke="#1f77b4" d="M2527 537h0M2511 546h0M2371 673h0M2524 517h0M2516 575h0M2513 582h0M2520 515h0M2401 569h0M2373 586h0M2516 553h0"/><path stroke="#ff7f0e" d="M2146 794h0M2118 826h0M1980 830h0M2148 842h0M1993 786h0M2097 820h0M2096 821h0M2004 795h0M2007 896h0M1946 722h0M2046 838h0M2146 795h0M1990 812h0"/><path stroke="#ffbb78" d="M2366 233h0M2316 259h0M2407 219h0"/><path stroke="#98df8a" d="M2353 361h0M2376 392h0"/><path stroke="#c5b0d5" d="M2577 300h0"/><path stroke="#f7b6d2" d="M2412 714h0"/><path stroke="#9edae5" d="M1590 215h0"/><path stroke="#279e68" d="M2090 621h0M2284 452h0M2271 398h0M2171 541h0M2344 443h0M2393 418h0M2186 500h0M2256 390h0M2324 480h0M2241 515h0"/><path stroke="#d62728" d="M2562 347h0M2566 380h0M2555 343h0M2500 319h0"/><path stroke="#aa40fc" d="M2314 604h0M2266 654h0M2294 585h0M2345 617h0M2318 659h0M2324 568h0M2318 659h0M2261 548h0M2266 674h0M2302 581h0"/><path stroke="#8c564b" d="M2480 462h0M2536 462h0M2557 400h0M2562 394h0M2477 478h0"/><path stroke="#e377c2" d="M2208 808h0M2206 814h0M2276 804h0M2173 842h0M2188 810h0M2349 762h0M2153 856h0M2201 809h0"/><path stroke="#b5bd61" d="M2471 317h0"/><path stroke="#17becf" d="M2314 401h0M2336 292h0M2340 294h0M2325 386h0M2404 292h0M2296 380h0M2296 452h0"/><path stroke="#aec7e8" d="M1966 635h0M1972 756h0M1964 706h0"/></g><g clip-path="url(#c2)" fill="none" stroke-width="12" stroke-linecap="round"><path stroke="#dab4cf" d="M3697 418h0M3681 594h0M3677 525h0M3676 549h0M3687 585h0M3672 582h0"/><path stroke="#c68bb5" d="M3690 575h0M3679 483h0M3673 501h0M3750 400h0"/><path stroke="#f7c242" d="M3713 598h0M3717 651h0M3703 583h0M3918 545h0M3695 583h0M3957 337h0M3881 331h0M3726 610h0M3743 643h0M3692 575h0M3717 577h0M3699 576h0M3703 597h0M3973 480h0M3723 624h0M3724 634h0M3933 621h0M3988 440h0"/><path stroke="#ad5c98" d="M3663 488h0M3681 457h0M3686 498h0M3662 518h0M3675 445h0M3757 379h0M3674 478h0M3668 516h0M3657 478h0M3677 473h0"/><path stroke="#d65a62" d="M3735 447h0M3725 497h0M3766 420h0M3763 388h0M3756 392h0"/><path stroke="#7a86a8" d="M3300 614h0"/><path stroke="#5b93cf" d="M3846 361h0M3873 115h0M3955 199h0M3872 125h0M3957 186h0M3885 114h0M3879 121h0M3870 317h0M3949 187h0M3957 172h0M3875 136h0M3936 193h0M3947 177h0M3943 186h0M3921 165h0M3943 337h0"/><path stroke="#cfe0f1" d="M3836 719h0M3998 504h0M3843 582h0M3994 510h0M3931 490h0M3834 734h0M3841 716h0M3841 599h0M3874 745h0M3855 588h0M3956 478h0M3867 346h0M3924 537h0M3830 536h0M3855 381h0M3866 749h0M3900 597h0M3935 533h0M3859 603h0M3944 545h0M3862 743h0M3833 725h0M3847 713h0M3886 526h0M4031 506h0M3859 722h0"/><path stroke="#c2d6ec" d="M3954 582h0M3944 255h0M3927 224h0M3950 460h0M3758 408h0M3935 590h0M3908 353h0M3910 305h0M3904 250h0M3850 211h0M3906 556h0M3927 525h0M3895 233h0M3930 399h0M3719 493h0M3944 217h0M3863 588h0M4034 321h0M3901 540h0M3951 374h0M3914 386h0M3937 363h0M3917 489h0M3825 281h0M3872 757h0M3994 429h0M3930 305h0M3942 279h0M3884 621h0M3924 312h0M3863 363h0M3955 392h0M3893 600h0M3883 569h0M3982 404h0M3812 278h0M3977 281h0M3872 336h0"/><path stroke="#b4cde8" d="M3923 232h0M3911 207h0M3940 476h0M3842 483h0M3871 178h0M4001 315h0M3916 170h0M3979 296h0M3856 445h0M3919 261h0M3912 164h0M3899 174h0M3918 187h0M3957 256h0M3670 469h0M3892 135h0M3806 183h0M3805 205h0M3964 395h0M3914 229h0M3977 372h0M3884 166h0M3886 354h0M3988 338h0M3989 493h0M3893 338h0M3919 245h0M3888 586h0M3911 294h0M3834 493h0M3905 342h0M3881 179h0M3970 283h0M3855 575h0M4047 322h0M3922 333h0M3843 198h0M3983 445h0M3906 492h0M3957 314h0M3936 330h0M3962 327h0M3914 536h0M3829 259h0M3988 300h0M3818 268h0M3954 260h0M3949 390h0M3941 605h0M3805 209h0M3944 323h0M3836 594h0M4038 307h0M3827 491h0M3866 215h0M3945 359h0M3898 138h0M3931 345h0M3954 573h0M3922 275h0M3867 386h0M3936 448h0"/><path stroke="#a3c1e3" d="M3877 357h0M3803 192h0M3965 481h0M3888 180h0M3957 287h0M3881 302h0M3930 286h0M3840 444h0M3948 477h0M3878 204h0M3862 174h0M3864 166h0"/><path stroke="#90b6dd" d="M3920 424h0M3886 191h0M3902 199h0M3934 178h0M3918 173h0M3946 193h0M3900 294h0M3966 447h0M3966 277h0M3944 345h0"/><path stroke="#f0bb8d" d="M3722 706h0M3353 634h0M3463 880h0M3721 669h0M3402 673h0M3915 279h0M3582 877h0M3414 654h0M3497 877h0M3849 340h0M3759 819h0M3744 668h0M3738 689h0M3369 674h0M3859 715h0M3730 702h0M3685 836h0M3492 893h0M3715 728h0M3728 649h0M3689 818h0M3681 857h0M3715 688h0M3485 886h0M3886 545h0M3438 900h0M3699 806h0M3502 872h0M3485 878h0M3918 469h0M3534 902h0M3390 655h0M3380 680h0M3886 613h0M3524 839h0M3720 808h0M3519 895h0M3994 350h0M3471 935h0M3453 875h0M3384 688h0M3691 851h0M3693 834h0M3662 820h0M3709 814h0M3512 903h0M3544 877h0M3730 806h0M3471 881h0M3722 720h0M3502 898h0"/><path stroke="#dab4cf" d="M3682 560h0M3691 581h0M3740 629h0M3743 661h0M3670 575h0M3677 564h0"/><path stroke="#c68bb5" d="M3670 544h0M3686 419h0M3664 545h0"/><path stroke="#f7c242" d="M3892 449h0M3906 334h0M3717 645h0M3896 587h0M3700 589h0M3974 313h0M3992 496h0M3740 592h0M3688 792h0M3718 637h0M3900 565h0M3919 363h0M3743 636h0"/><path stroke="#ad5c98" d="M3677 463h0M3681 468h0M3661 464h0M3698 424h0M3682 436h0M3675 519h0M3679 429h0M3674 458h0M3689 449h0M3682 522h0M3657 512h0M3664 469h0M3673 451h0M3667 483h0M3728 452h0M3662 502h0"/><path stroke="#d65a62" d="M3763 385h0M3732 476h0M3739 422h0"/><path stroke="#7a86a8" d="M3305 620h0"/><path stroke="#5b93cf" d="M3838 278h0M3885 123h0M3885 228h0M3868 128h0M3856 127h0M3878 163h0M3905 179h0M3880 172h0M3910 135h0M3854 153h0M3951 183h0M3943 180h0M3872 122h0M3811 271h0M3892 125h0M3953 175h0"/><path stroke="#cfe0f1" d="M3941 573h0M3926 568h0M3851 743h0M3857 706h0M3817 592h0M3952 548h0M3902 516h0M3897 511h0M3901 629h0M3960 405h0M3909 545h0M3852 716h0M3852 710h0M3908 604h0M3899 497h0M3840 735h0M3853 752h0M3922 604h0"/><path stroke="#c2d6ec" d="M3886 341h0M3894 222h0M3972 452h0M3817 282h0M3918 452h0M3955 533h0M3991 451h0M3945 272h0M4001 484h0M3928 280h0M3941 351h0M3938 380h0M3912 427h0M3888 458h0M3954 591h0M3937 341h0M3895 423h0M3972 293h0M3883 362h0M3955 437h0M3842 216h0M3847 443h0M3959 442h0M3939 387h0M3890 512h0M3872 587h0M3865 356h0M3942 523h0M3905 214h0M3983 286h0M3846 738h0M3831 352h0M3951 226h0M3861 579h0M3900 590h0M3896 621h0M3986 461h0M4029 337h0"/><path stroke="#b4cde8" d="M4003 464h0M3894 465h0M3902 477h0M3971 464h0M3998 417h0M3921 254h0M4015 344h0M3968 296h0M3913 495h0M3935 371h0M3970 387h0M3934 276h0M3860 341h0M3995 322h0M3944 464h0M3935 470h0M3959 473h0M3899 431h0M3966 266h0M3892 141h0M3990 331h0M3973 488h0M3965 431h0M3966 247h0M4000 302h0M3883 607h0M3910 525h0M3914 219h0M4015 330h0M3873 229h0M3916 286h0M3906 325h0M3963 385h0M3872 221h0M3956 252h0M3922 461h0M3978 325h0M3853 595h0M3840 496h0M3918 297h0M4040 315h0M3890 248h0M3831 503h0M3972 378h0M3903 228h0M3965 288h0M3907 222h0M4007 426h0M3804 278h0M3958 378h0M3951 397h0M3883 216h0"/><path stroke="#a3c1e3" d="M3955 363h0M3920 484h0M3895 546h0M3924 295h0M3905 139h0M3858 352h0M3873 145h0M3854 489h0M3875 388h0M3966 370h0M3902 451h0M3880 321h0"/><path stroke="#90b6dd" d="M3993 446h0M3896 328h0M4002 408h0M3953 385h0M3876 237h0M3907 381h0M3987 346h0M3943 207h0M3953 281h0M3895 195h0M3860 239h0"/><path stroke="#f0bb8d" d="M3728 823h0M3441 855h0M3437 946h0M3506 925h0M3509 870h0M3442 893h0M3569 880h0M3744 830h0M3437 927h0M3536 868h0M3408 648h0M3433 939h0M3487 865h0M3752 820h0M3481 873h0M3382 656h0M3460 940h0M3687 432h0M3724 660h0M3744 676h0M3509 896h0M3469 874h0M3432 948h0M3385 665h0M3924 403h0M3499 919h0M3505 918h0M3441 916h0M3463 887h0M3662 843h0M3517 875h0M3377 646h0M3338 646h0M3510 912h0M3506 905h0M3462 897h0M3951 558h0M3328 638h0M3494 911h0M3372 660h0M3735 658h0M3676 798h0M3914 505h0M3353 662h0M3364 627h0M3375 669h0M3550 882h0M3385 703h0M3720 480h0M3435 870h0M3352 653h0M3668 838h0M3517 841h0M3478 932h0M4007 312h0M3535 875h0M3708 802h0M3736 682h0M3494 866h0M3887 324h0M3726 687h0M3679 452h0M3897 457h0M3729 694h0M3336 631h0M3532 833h0M3703 835h0M3513 888h0M3697 841h0M3498 889h0"/><path stroke="#dab4cf" d="M3681 588h0M3671 550h0"/><path stroke="#c68bb5" d="M3672 559h0M3680 514h0"/><path stroke="#f7c242" d="M3949 513h0M3721 601h0M3969 353h0M3937 500h0M3933 610h0M3706 559h0M3695 560h0M3728 629h0M3716 561h0M3727 597h0M3922 615h0M3708 564h0M3714 711h0M3959 263h0M3708 611h0M3716 607h0M3955 404h0M3752 584h0M3733 634h0M3850 494h0"/><path stroke="#ad5c98" d="M3664 494h0M3686 503h0M3680 499h0M3682 493h0M3691 419h0M3666 507h0M3686 455h0"/><path stroke="#d65a62" d="M3751 424h0M3721 486h0M3742 441h0M3773 338h0M3745 411h0M3731 483h0M3722 464h0M3726 459h0M3760 416h0M3755 373h0M3764 356h0"/><path stroke="#7a86a8" d="M3295 613h0M3310 622h0"/><path stroke="#5b93cf" d="M3861 137h0M3877 131h0M3912 322h0M3849 148h0M3832 188h0M3888 117h0"/><path stroke="#cfe0f1" d="M3830 580h0M4010 506h0M3904 403h0M3902 598h0M4028 511h0M3836 543h0M3884 599h0M3904 423h0M3933 599h0M3848 724h0M3842 722h0M3907 509h0M3828 721h0M3824 588h0M3936 508h0M3885 555h0M3917 554h0M3897 576h0M3847 378h0M3875 752h0M3922 505h0M3927 467h0M3867 582h0M3974 442h0"/><path stroke="#c2d6ec" d="M3880 588h0M3937 259h0M3979 430h0M4000 345h0M3910 595h0M3704 810h0M3946 248h0M3853 316h0M3926 267h0M3951 322h0M3894 588h0M3927 358h0M3876 214h0M3897 526h0M4006 497h0M3955 233h0M3946 383h0M3875 350h0M3946 415h0M3809 566h0M3896 441h0M3964 264h0M3918 203h0M3965 336h0M4011 418h0M3941 487h0M3956 295h0M3951 279h0M3925 560h0M3980 477h0M3822 582h0M3954 286h0M3969 260h0M3844 489h0M3898 583h0M3918 445h0M3862 375h0M3965 458h0M3962 319h0M3812 586h0M3851 368h0M3829 730h0M3906 314h0M3930 412h0"/><path stroke="#b4cde8" d="M3832 268h0M3966 473h0M3809 257h0M3933 463h0M3934 354h0M3888 439h0M3930 332h0M3901 387h0M3876 194h0M3964 255h0M3800 213h0M3799 583h0M3990 367h0M3960 422h0M3990 480h0M4002 392h0M3975 443h0M4025 500h0M3866 206h0M3944 295h0M3978 304h0M3959 464h0M4026 328h0M3984 485h0M3893 503h0M3862 313h0M3689 440h0M3956 245h0M3913 142h0M3934 225h0M3957 302h0M3807 284h0M3834 549h0M3841 210h0M3888 305h0M3864 328h0M3884 343h0M3919 162h0M3963 253h0M3941 264h0M4017 320h0M3819 259h0M3883 142h0M3991 419h0M3983 312h0M3958 457h0M3909 471h0M3941 454h0M3821 274h0M3870 188h0M4010 338h0"/><path stroke="#a3c1e3" d="M3963 306h0M3914 515h0M3996 371h0M3972 426h0M3945 330h0M3959 294h0M3906 171h0M3883 245h0M3896 594h0M3956 434h0M3875 343h0M3841 352h0M3942 287h0M3946 239h0M3949 496h0M3855 361h0M3973 338h0"/><path stroke="#90b6dd" d="M3862 124h0M3993 312h0M3885 130h0M3877 186h0M3887 130h0M3905 396h0M4025 345h0M3912 180h0"/><path stroke="#f0bb8d" d="M3691 810h0M3453 844h0M3543 871h0M3730 814h0M3480 866h0M3717 631h0M3997 436h0M3507 881h0M3669 822h0M3807 591h0M3364 644h0M3540 899h0M3727 604h0M3744 822h0M3953 346h0M3356 645h0M3737 698h0M3453 893h0M3695 797h0M3511 844h0M3376 628h0M3452 851h0M3916 147h0M3937 517h0M3696 790h0M3682 822h0M3757 591h0M3596 869h0M3915 638h0M3909 611h0M3590 874h0M3999 498h0M3445 870h0M3929 584h0M3722 815h0M3322 628h0M3887 631h0M3563 883h0M3472 867h0M3464 864h0M3465 935h0M3361 636h0M3468 900h0M3512 919h0M3437 933h0M3446 886h0M3361 658h0M3677 845h0M3410 638h0M3895 519h0M3382 695h0M3720 650h0M3827 484h0M3925 547h0M3463 873h0M3858 728h0M3380 635h0M3683 849h0M3648 838h0M3929 449h0M3760 826h0M3679 836h0M3523 888h0M3418 642h0M3453 941h0"/><path stroke="#dab4cf" d="M3735 462h0M3676 574h0M3679 423h0M3692 428h0M3676 555h0M3737 432h0M3683 574h0M3760 400h0"/><path stroke="#c68bb5" d="M3663 476h0M3669 462h0M3667 450h0M3742 653h0"/><path stroke="#f7c242" d="M3931 430h0M3907 584h0M3725 650h0M3956 500h0M3728 678h0M3709 589h0M3711 617h0M3708 602h0M3714 568h0M3704 571h0M3707 578h0M3719 616h0M3701 563h0M3733 600h0"/><path stroke="#ad5c98" d="M3655 494h0M3744 600h0M3686 425h0M3672 509h0M3677 505h0M3682 445h0M3668 539h0M3693 436h0M3685 476h0M3687 468h0M3665 456h0"/><path stroke="#d65a62" d="M3763 363h0M3723 473h0M3766 380h0M3745 418h0M3761 379h0M3764 373h0M3756 386h0M3747 428h0"/><path stroke="#7a86a8" d="M3314 626h0"/><path stroke="#5b93cf" d="M3952 176h0M3975 297h0M3869 130h0M3950 181h0M3937 203h0M3930 185h0M3849 153h0M3874 122h0M3856 136h0M3968 275h0M3857 149h0"/><path stroke="#cfe0f1" d="M3852 732h0M3867 596h0M3875 600h0M3705 793h0M3906 641h0M3975 356h0M3884 600h0M3858 736h0M3981 415h0M3941 619h0M3843 729h0M3998 451h0M3933 561h0M3841 537h0"/><path stroke="#c2d6ec" d="M3929 503h0M4003 456h0M3943 595h0M4022 515h0M3926 366h0M3920 578h0M3818 485h0M3995 401h0M4013 308h0M3875 377h0M3837 360h0M3933 292h0M3932 232h0M3872 367h0M3912 417h0M3953 468h0M3977 289h0M4013 409h0M3910 479h0M3960 365h0M3891 211h0M3944 435h0M3985 376h0M4001 378h0M3951 292h0M3912 448h0M3964 297h0M4030 497h0M3801 272h0M3855 306h0M3897 307h0M3817 574h0M3961 353h0M3914 408h0M4021 493h0M3931 422h0M4040 325h0M3962 344h0M3918 523h0M4013 511h0M3911 624h0M3943 426h0M3890 368h0"/><path stroke="#b4cde8" d="M3987 324h0M3980 335h0M3873 333h0M3973 402h0M3922 323h0M3908 532h0M3958 441h0M3839 367h0M3942 395h0M3948 453h0M3915 568h0M3842 343h0M3966 447h0M3824 265h0M3967 362h0M3971 305h0M3997 491h0M3978 464h0M4036 336h0M4020 504h0M3909 259h0M3849 205h0M3957 244h0M3838 191h0M4018 298h0M3927 456h0M3939 297h0M3831 277h0M3977 365h0M3991 504h0M3938 315h0M3899 259h0M3930 512h0M3953 269h0M3898 315h0M3985 441h0M4002 338h0M3992 383h0M3971 262h0M3824 566h0M3939 238h0M3916 379h0M3934 525h0M3900 338h0M3911 393h0M3834 345h0M3889 199h0M3861 320h0M3891 239h0M3903 549h0M3938 419h0M3816 189h0M3955 412h0M3849 353h0M3974 332h0M4002 491h0M3920 356h0M3893 167h0"/><path stroke="#a3c1e3" d="M3809 178h0M3911 465h0M3953 256h0M3914 337h0M3898 216h0M3921 303h0M4016 497h0M3903 304h0M3837 205h0M3906 459h0M3906 151h0M3901 468h0M3963 272h0M3892 299h0M3858 331h0M3920 152h0M3945 613h0"/><path stroke="#90b6dd" d="M3816 291h0M3822 192h0M4025 306h0M3983 356h0M3898 351h0M3888 124h0M3920 476h0M3926 174h0"/><path stroke="#f0bb8d" d="M3490 874h0M3444 878h0M3690 570h0M3718 696h0M3865 183h0M3823 497h0M3672 828h0M3920 497h0M3942 492h0M3486 909h0M3446 942h0M3372 636h0M3709 826h0M3888 537h0M3506 889h0M3837 488h0M4010 402h0M3771 343h0M3943 505h0M3366 664h0M3387 672h0M3864 733h0M3469 891h0M3925 418h0M3717 822h0M3377 704h0M3656 838h0M3756 417h0M3690 858h0M3984 424h0M3744 814h0M3775 329h0M3369 653h0M3388 680h0M3706 709h0M3911 575h0M3682 812h0M3977 388h0M3952 606h0M3688 843h0M3869 309h0M3954 190h0M4001 472h0M3456 881h0M3737 811h0M3953 489h0M3555 888h0M3502 912h0M3389 639h0M3518 882h0M3716 584h0M3932 389h0M3406 664h0M3444 899h0M3732 668h0M3399 655h0M3926 593h0M3397 666h0M3458 862h0M3673 815h0M3449 864h0M3697 821h0"/><path stroke="#dab4cf" d="M3664 555h0M3669 527h0M3675 494h0M3672 568h0M3657 470h0"/><path stroke="#c68bb5" d="M3661 533h0M3679 579h0M3684 567h0M3700 429h0M3674 436h0"/><path stroke="#f7c242" d="M3737 620h0M3749 605h0M3714 625h0M3738 603h0M3727 616h0M3704 821h0M3748 590h0M3751 597h0M3992 464h0M3720 591h0M3726 643h0M3739 614h0M3840 375h0"/><path stroke="#ad5c98" d="M3678 489h0M3662 526h0M3656 485h0M3654 503h0M3684 486h0M3669 498h0"/><path stroke="#d65a62" d="M3763 395h0M3770 352h0M3738 455h0M3732 438h0M3760 404h0M3763 394h0M3744 433h0M3734 469h0M3762 409h0M3750 408h0M3763 371h0M3728 490h0"/><path stroke="#5b93cf" d="M3947 199h0M3893 189h0M3943 181h0M3866 142h0M3851 139h0M3930 206h0M3796 197h0M3866 118h0M3953 206h0M3898 128h0M3958 177h0M3865 124h0M3903 130h0"/><path stroke="#cfe0f1" d="M3843 590h0M3819 559h0M3852 601h0M3866 756h0M3893 566h0M3829 496h0M3888 594h0M3897 637h0M3928 485h0M3936 550h0M3992 410h0M3973 473h0M3836 583h0M3970 437h0M3914 587h0M3921 513h0M3873 738h0M3892 553h0M3831 587h0M3926 626h0M3954 448h0M4004 503h0"/><path stroke="#c2d6ec" d="M3917 316h0M3871 200h0M3830 443h0M3944 444h0M3856 745h0M3955 541h0M3871 302h0M3992 471h0M3926 392h0M3908 566h0M3921 216h0M4022 338h0M3906 595h0M3934 578h0M4008 324h0M4008 298h0M3732 444h0M3929 439h0M3985 385h0M3953 335h0M3950 299h0M3946 583h0M3929 376h0M3905 274h0M3911 346h0M3938 539h0M3884 314h0M3931 324h0M3958 271h0M3830 543h0M3914 486h0M3913 330h0M3976 409h0M3927 383h0M3912 362h0M3809 580h0M3840 266h0M3931 478h0M3823 443h0M4005 448h0M3944 372h0M3804 574h0M3848 481h0M3951 423h0M3934 569h0M3986 393h0M3921 410h0"/><path stroke="#b4cde8" d="M3803 199h0M3897 249h0M3927 245h0M3903 239h0M3973 268h0M3835 260h0M3970 319h0M3953 309h0M3818 492h0M4027 313h0M3948 265h0M3841 284h0M3845 273h0M3849 247h0M3976 289h0M3910 157h0M4003 328h0M3951 522h0M3934 297h0M3828 287h0M3988 306h0M3953 215h0M3869 374h0M4016 488h0M3961 294h0M3981 456h0M3901 267h0M3899 411h0M3923 347h0M3970 418h0M3912 271h0M3944 557h0M3973 279h0M3953 355h0M4010 491h0M3814 186h0M3935 214h0M3827 183h0M3941 230h0M3968 312h0M4000 445h0M3851 582h0M3804 263h0M3964 298h0M3911 246h0M3880 383h0M3940 405h0M3929 254h0M3917 434h0M3799 191h0M3852 347h0M3938 304h0M3958 283h0M3939 249h0M3794 206h0"/><path stroke="#a3c1e3" d="M3916 401h0M3907 146h0M3904 359h0M3916 238h0M3820 179h0M3808 191h0M3833 198h0M4026 320h0M4007 512h0M3896 181h0M3952 484h0M3828 195h0M3907 439h0M3902 207h0M3879 371h0M3904 190h0M3873 324h0M3962 413h0"/><path stroke="#90b6dd" d="M3984 470h0M3978 273h0M3877 124h0M3914 196h0M3857 142h0M3864 133h0M3975 345h0M3945 309h0M3882 119h0M3964 288h0M3956 275h0M3812 264h0"/><path stroke="#f0bb8d" d="M3485 898h0M3479 892h0M3543 890h0M3551 895h0M3902 607h0M3528 877h0M3714 655h0M3733 642h0M3886 578h0M3495 903h0M3666 813h0M3524 868h0M3479 882h0M3708 723h0M3920 631h0M3393 647h0M3399 638h0M3530 892h0M3445 848h0M3891 607h0M3493 883h0M3664 828h0M3835 480h0M3517 908h0M3672 488h0M3709 700h0M3441 863h0M3440 923h0M3540 881h0M3504 848h0M3728 714h0M3720 677h0M3947 535h0M3737 826h0M3943 566h0M3344 635h0M3373 687h0M3655 825h0M3435 883h0M3736 818h0M3347 644h0M3527 901h0M3673 805h0M3752 813h0M3700 829h0M3683 801h0M3431 952h0M3476 900h0M3652 831h0M3685 828h0"/><path stroke="#0b8744" d="M3388 652h0M3415 760h0M3390 645h0M3388 691h0M3391 730h0M3392 638h0"/><path stroke="#dab4cf" d="M3778 451h0M3719 400h0"/><path stroke="#c68bb5" d="M3636 525h0M3794 378h0M3763 451h0M3771 482h0"/><path stroke="#f7c242" d="M3971 476h0M3900 253h0M3756 564h0M3714 696h0M3771 589h0M3714 522h0M3985 508h0"/><path stroke="#ad5c98" d="M3778 472h0M3662 818h0M3600 568h0"/><path stroke="#6479be" d="M3494 886h0M3472 824h0M3689 856h0M3494 900h0"/><path stroke="#d65a62" d="M3792 295h0M3776 443h0"/><path stroke="#5b93cf" d="M3845 207h0"/><path stroke="#cfe0f1" d="M3971 566h0M3956 560h0M3807 480h0M3785 549h0"/><path stroke="#c2d6ec" d="M3789 566h0M3838 219h0M3772 378h0M3783 627h0M3987 528h0M3803 381h0M3887 262h0M3963 568h0"/><path stroke="#b4cde8" d="M3876 272h0M3802 399h0M3980 546h0M3771 565h0M3853 199h0M3871 478h0M3855 266h0M3774 551h0"/><path stroke="#a3c1e3" d="M3739 389h0M3766 295h0M3789 326h0"/><path stroke="#f0bb8d" d="M3880 673h0M3588 824h0M3462 796h0M3438 832h0M3796 443h0M3858 725h0M3803 598h0M3834 690h0M3756 768h0M3778 361h0M3889 402h0M3834 690h0M3796 578h0M3621 848h0M3752 774h0M3732 782h0M3817 726h0M3785 472h0M3763 606h0M3754 714h0M3864 586h0M3429 735h0M3451 786h0M3860 677h0M3448 814h0M3719 804h0M3805 412h0"/><path stroke="#0b8744" d="M3396 630h0M3414 789h0M3430 855h0M3398 658h0M3390 665h0M3410 758h0M3431 858h0"/><path stroke="#dab4cf" d="M3729 679h0M3739 692h0M3724 415h0"/><path stroke="#f7c242" d="M4036 335h0M3989 511h0M3778 593h0M3829 462h0M3960 511h0"/><path stroke="#ad5c98" d="M3594 562h0M3729 450h0M3771 449h0M3512 612h0"/><path stroke="#6479be" d="M3496 905h0M3494 849h0M3472 824h0M3450 882h0"/><path stroke="#d65a62" d="M3792 370h0M3844 406h0M3794 305h0"/><path stroke="#7a86a8" d="M3360 642h0M3040 220h0M3338 639h0"/><path stroke="#cfe0f1" d="M3965 520h0M3868 691h0M3829 736h0M3963 590h0M3785 412h0"/><path stroke="#c2d6ec" d="M3778 323h0M3814 220h0M3800 358h0M3732 502h0M3783 744h0M3960 549h0M3833 480h0M3672 796h0M3855 429h0M3836 739h0"/><path stroke="#b4cde8" d="M3836 199h0M3849 326h0M4011 293h0M3814 308h0M3813 341h0M3792 317h0M3864 262h0M3787 337h0"/><path stroke="#a3c1e3" d="M3792 451h0M3873 412h0"/><path stroke="#f0bb8d" d="M3712 746h0M3596 815h0M3825 561h0M3498 828h0M3592 872h0M3884 657h0M3639 839h0M3953 352h0M3816 726h0M3455 822h0M3619 846h0M3887 666h0M3854 367h0M3873 281h0M3729 796h0M3542 830h0M3588 825h0M3875 358h0M3917 451h0M3325 629h0M3743 652h0M3684 485h0M3722 776h0M3920 440h0M3884 418h0"/><path stroke="#0b8744" d="M3395 668h0M3370 658h0M3418 748h0M3412 772h0M3385 659h0"/><path stroke="#dab4cf" d="M3746 385h0M3774 480h0M3739 392h0"/><path stroke="#c68bb5" d="M3734 418h0M3756 454h0M3696 410h0"/><path stroke="#f7c242" d="M3953 325h0M4025 347h0M4009 380h0M3682 862h0M4022 361h0M4009 331h0M3736 568h0M4016 363h0M3756 738h0M3792 586h0M3722 654h0"/><path stroke="#ad5c98" d="M3612 545h0M3716 444h0"/><path stroke="#6479be" d="M3435 956h0M3504 886h0M3695 853h0M3498 899h0M3612 856h0"/><path stroke="#d65a62" d="M3756 599h0M3765 494h0M3754 366h0"/><path stroke="#7a86a8" d="M3052 232h0M3049 218h0M3040 226h0"/><path stroke="#5b93cf" d="M3954 199h0M3811 305h0"/><path stroke="#cfe0f1" d="M3576 826h0M3763 630h0M3832 719h0M3778 708h0M3960 593h0M3889 672h0"/><path stroke="#c2d6ec" d="M3782 709h0M3984 524h0M3729 392h0M3865 275h0M3819 719h0M3807 608h0M3862 664h0M3853 290h0M3646 810h0"/><path stroke="#b4cde8" d="M4024 299h0M3784 744h0M3811 476h0M3847 399h0M4022 387h0"/><path stroke="#a3c1e3" d="M3719 492h0M3719 385h0M3813 385h0M3958 245h0"/><path stroke="#90b6dd" d="M3831 319h0"/><path stroke="#f0bb8d" d="M3844 481h0M3736 568h0M3724 744h0M3632 842h0M3692 468h0M3732 515h0M3641 838h0M3420 742h0M3372 626h0M3780 440h0M3564 884h0M3798 293h0M3857 694h0M4002 418h0M3807 368h0M4005 374h0M3529 832h0"/><path stroke="#0b8744" d="M3415 648h0M3408 765h0M3400 662h0M3431 770h0M3422 760h0M3410 768h0M3426 785h0"/><path stroke="#dab4cf" d="M3767 472h0M3714 422h0"/><path stroke="#c68bb5" d="M3646 508h0M3778 339h0M3704 502h0"/><path stroke="#f7c242" d="M3682 844h0M4011 431h0M3967 533h0M3827 454h0M3935 352h0M3998 475h0M4020 401h0M3954 327h0M3684 854h0M3962 434h0"/><path stroke="#ad5c98" d="M3706 418h0"/><path stroke="#6479be" d="M3458 586h0M3454 888h0M3442 598h0M3466 890h0"/><path stroke="#d65a62" d="M3772 557h0"/><path stroke="#7a86a8" d="M3053 222h0M3043 222h0"/><path stroke="#cfe0f1" d="M3809 611h0M3808 762h0M3829 675h0M3824 480h0M3776 577h0"/><path stroke="#c2d6ec" d="M4012 294h0M3800 316h0M3818 217h0M3855 480h0M3956 604h0M3704 838h0M3958 255h0M4001 285h0M3862 414h0M3783 606h0M3882 257h0"/><path stroke="#b4cde8" d="M3679 802h0M3873 261h0M3724 370h0M3791 227h0M3956 222h0M3867 421h0M3876 447h0"/><path stroke="#a3c1e3" d="M3956 235h0"/><path stroke="#90b6dd" d="M3765 295h0"/><path stroke="#f0bb8d" d="M3392 722h0M3574 879h0M3594 815h0M3845 301h0M3989 432h0M3599 868h0M3791 396h0M3541 832h0M3776 330h0M3847 299h0M3465 822h0M3498 828h0M3456 828h0M3604 866h0M3805 576h0M4000 284h0M3953 210h0M3682 535h0M3584 876h0M3464 822h0M3648 830h0M3769 802h0M3606 842h0M3342 630h0"/><path stroke="#0b8744" d="M3430 756h0"/><path stroke="#dab4cf" d="M3772 401h0M3729 398h0M3724 674h0M3754 452h0M3699 515h0"/><path stroke="#c68bb5" d="M3742 452h0M3629 541h0M3754 380h0"/><path stroke="#f7c242" d="M3994 462h0M4020 347h0M3752 585h0M4013 343h0M4015 400h0M3958 319h0M3978 515h0M3831 586h0M3760 581h0"/><path stroke="#ad5c98" d="M3548 621h0M3724 654h0M3644 500h0M3719 548h0"/><path stroke="#6479be" d="M3465 896h0M3611 856h0"/><path stroke="#d65a62" d="M3794 292h0"/><path stroke="#7a86a8" d="M3048 215h0"/><path stroke="#cfe0f1" d="M3985 537h0M3782 568h0M3807 762h0M3971 582h0M3776 659h0M3974 553h0"/><path stroke="#c2d6ec" d="M3666 808h0M3576 826h0M3811 361h0M3803 617h0M3870 714h0M3982 517h0M3974 575h0M3862 292h0M3802 443h0M3714 390h0"/><path stroke="#b4cde8" d="M3664 814h0M3824 233h0M3834 392h0M3969 546h0M4024 380h0M3776 659h0M3829 673h0M4035 300h0M3851 418h0M3659 809h0M4020 394h0M3782 480h0"/><path stroke="#a3c1e3" d="M3774 259h0M3646 810h0"/><path stroke="#90b6dd" d="M3865 219h0"/><path stroke="#f0bb8d" d="M3938 462h0M3604 794h0M3438 830h0M3606 842h0M3772 604h0M3734 804h0M3451 786h0M3555 820h0M3554 821h0M3424 635h0M3462 795h0M3631 842h0M3404 722h0M3504 838h0M3798 294h0M3783 386h0M3859 569h0M3935 478h0M3422 706h0M3929 317h0M3604 795h0M3448 812h0"/></g><rect x="74.5" y="75.3" width="1106" height="924.2" fill="none" stroke="#000" stroke-width="3"/><text x="571.8" y="55.4" font-size="43.5" textLength="111.3" lengthAdjust="spacingAndGlyphs">stage</text><text x="594.2" y="1041.2" font-size="39.2" textLength="66.6" lengthAdjust="spacingAndGlyphs">FA1</text><text transform="translate(56.5,574.3) rotate(-90)" x="0" y="0" font-size="39.2" textLength="66.6" lengthAdjust="spacingAndGlyphs">FA2</text><rect x="1532.5" y="75.3" width="1106" height="924.2" fill="none" stroke="#000" stroke-width="3"/><text x="2024.3" y="55.4" font-size="43.5" textLength="122.5" lengthAdjust="spacingAndGlyphs">leiden</text><text x="2052.2" y="1041.2" font-size="39.2" textLength="66.6" lengthAdjust="spacingAndGlyphs">FA1</text><text transform="translate(1514.5,574.3) rotate(-90)" x="0" y="0" font-size="39.2" textLength="66.6" lengthAdjust="spacingAndGlyphs">FA2</text><rect x="2990.5" y="75.3" width="1106" height="924.2" fill="none" stroke="#000" stroke-width="3"/><text x="3524.6" y="55.4" font-size="43.5" textLength="37.8" lengthAdjust="spacingAndGlyphs">ct</text><text x="3510.2" y="1041.2" font-size="39.2" textLength="66.6" lengthAdjust="spacingAndGlyphs">FA1</text><text transform="translate(2972.5,574.3) rotate(-90)" x="0" y="0" font-size="39.2" textLength="66.6" lengthAdjust="spacingAndGlyphs">FA2</text><circle cx="1222.5" cy="233.4" r="11.6" fill="#000000"/><text x="1245.8" y="243.4" font-size="39.2" textLength="130.9" lengthAdjust="spacingAndGlyphs">Oocyte</text><circle cx="1222.5" cy="288.8" r="11.6" fill="#5b6480"/><text x="1245.8" y="298.8" font-size="39.2" textLength="201.2" lengthAdjust="spacingAndGlyphs">Pronucleus</text><circle cx="1222.5" cy="344.1" r="11.6" fill="#7a87ac"/><text x="1245.8" y="354.1" font-size="39.2" textLength="130.3" lengthAdjust="spacingAndGlyphs">Zygote</text><circle cx="1222.5" cy="399.5" r="11.6" fill="#b5c61f"/><text x="1245.8" y="409.5" font-size="39.2" textLength="49.2" lengthAdjust="spacingAndGlyphs">2C</text><circle cx="1222.5" cy="454.9" r="11.6" fill="#6cbd3a"/><text x="1245.8" y="464.9" font-size="39.2" textLength="49.2" lengthAdjust="spacingAndGlyphs">4C</text><circle cx="1222.5" cy="510.2" r="11.6" fill="#0b8744"/><text x="1245.8" y="520.2" font-size="39.2" textLength="49.2" lengthAdjust="spacingAndGlyphs">8C</text><circle cx="1222.5" cy="565.6" r="11.6" fill="#6479be"/><text x="1245.8" y="575.6" font-size="39.2" textLength="125.8" lengthAdjust="spacingAndGlyphs">Morula</text><circle cx="1222.5" cy="621.0" r="11.6" fill="#5b96d0"/><text x="1245.8" y="631.0" font-size="39.2" textLength="45.9" lengthAdjust="spacingAndGlyphs">TE</text><circle cx="1222.5" cy="676.4" r="11.6" fill="#f7c242"/><text x="1245.8" y="686.4" font-size="39.2" textLength="68.5" lengthAdjust="spacingAndGlyphs">ICM</text><circle cx="1222.5" cy="731.7" r="11.6" fill="#b0649c"/><text x="1245.8" y="741.7" font-size="39.2" textLength="56.4" lengthAdjust="spacingAndGlyphs">EPI</text><circle cx="1222.5" cy="787.1" r="11.6" fill="#d65a62"/><text x="1245.8" y="797.1" font-size="39.2" textLength="60.1" lengthAdjust="spacingAndGlyphs">PrE</text><circle cx="1222.5" cy="842.5" r="11.6" fill="#f0bb8d"/><text x="1245.8" y="852.5" font-size="39.2" textLength="171.3" lengthAdjust="spacingAndGlyphs">Unknown</text><circle cx="2680.5" cy="316.5" r="11.6" fill="#1f77b4"/><text x="2703.8" y="325.5" font-size="39.2" textLength="23.5" lengthAdjust="spacingAndGlyphs">0</text><circle cx="2680.5" cy="371.9" r="11.6" fill="#ff7f0e"/><text x="2703.8" y="380.9" font-size="39.2" textLength="23.5" lengthAdjust="spacingAndGlyphs">1</text><circle cx="2680.5" cy="427.2" r="11.6" fill="#279e68"/><text x="2703.8" y="436.2" font-size="39.2" textLength="23.5" lengthAdjust="spacingAndGlyphs">2</text><circle cx="2680.5" cy="482.6" r="11.6" fill="#d62728"/><text x="2703.8" y="491.6" font-size="39.2" textLength="23.5" lengthAdjust="spacingAndGlyphs">3</text><circle cx="2680.5" cy="537.9" r="11.6" fill="#aa40fc"/><text x="2703.8" y="546.9" font-size="39.2" textLength="23.5" lengthAdjust="spacingAndGlyphs">4</text><circle cx="2680.5" cy="593.2" r="11.6" fill="#8c564b"/><text x="2703.8" y="602.2" font-size="39.2" textLength="23.5" lengthAdjust="spacingAndGlyphs">5</text><circle cx="2680.5" cy="648.6" r="11.6" fill="#e377c2"/><text x="2703.8" y="657.6" font-size="39.2" textLength="23.5" lengthAdjust="spacingAndGlyphs">6</text><circle cx="2680.5" cy="704.0" r="11.6" fill="#b5bd61"/><text x="2703.8" y="713.0" font-size="39.2" textLength="23.5" lengthAdjust="spacingAndGlyphs">7</text><circle cx="2680.5" cy="759.3" r="11.6" fill="#17becf"/><text x="2703.8" y="768.3" font-size="39.2" textLength="23.5" lengthAdjust="spacingAndGlyphs">8</text><circle cx="2810.5" cy="316.5" r="11.6" fill="#aec7e8"/><text x="2833.8" y="325.5" font-size="39.2" textLength="23.5" lengthAdjust="spacingAndGlyphs">9</text><circle cx="2810.5" cy="371.9" r="11.6" fill="#ffbb78"/><text x="2833.8" y="380.9" font-size="39.2" textLength="47.0" lengthAdjust="spacingAndGlyphs">10</text><circle cx="2810.5" cy="427.2" r="11.6" fill="#98df8a"/><text x="2833.8" y="436.2" font-size="39.2" textLength="47.0" lengthAdjust="spacingAndGlyphs">11</text><circle cx="2810.5" cy="482.6" r="11.6" fill="#ff9896"/><text x="2833.8" y="491.6" font-size="39.2" textLength="47.0" lengthAdjust="spacingAndGlyphs">12</text><circle cx="2810.5" cy="537.9" r="11.6" fill="#c5b0d5"/><text x="2833.8" y="546.9" font-size="39.2" textLength="47.0" lengthAdjust="spacingAndGlyphs">13</text><circle cx="2810.5" cy="593.2" r="11.6" fill="#c49c94"/><text x="2833.8" y="602.2" font-size="39.2" textLength="47.0" lengthAdjust="spacingAndGlyphs">14</text><circle cx="2810.5" cy="648.6" r="11.6" fill="#f7b6d2"/><text x="2833.8" y="657.6" font-size="39.2" textLength="47.0" lengthAdjust="spacingAndGlyphs">15</text><circle cx="2810.5" cy="704.0" r="11.6" fill="#dbdb8d"/><text x="2833.8" y="713.0" font-size="39.2" textLength="47.0" lengthAdjust="spacingAndGlyphs">16</text><circle cx="2810.5" cy="759.3" r="11.6" fill="#9edae5"/><text x="2833.8" y="768.3" font-size="39.2" textLength="47.0" lengthAdjust="spacingAndGlyphs">17</text><circle cx="4137.6" cy="342.4" r="11.6" fill="#0b8744"/><text x="4160.9" y="352.2" font-size="39.2" textLength="126.4" lengthAdjust="spacingAndGlyphs">8C_3.0</text><circle cx="4137.6" cy="398.8" r="11.6" fill="#dab4cf"/><text x="4160.9" y="408.6" font-size="39.2" textLength="224.1" lengthAdjust="spacingAndGlyphs">Epiblast_6.0</text><circle cx="4137.6" cy="455.1" r="11.6" fill="#c68bb5"/><text x="4160.9" y="464.9" font-size="39.2" textLength="224.1" lengthAdjust="spacingAndGlyphs">Epiblast_7.0</text><circle cx="4137.6" cy="510.9" r="11.6" fill="#f7c242"/><text x="4160.9" y="520.8" font-size="39.2" textLength="280.9" lengthAdjust="spacingAndGlyphs">Inner Cell Mass</text><circle cx="4137.6" cy="566.3" r="11.6" fill="#ad5c98"/><text x="4160.9" y="576.1" font-size="39.2" textLength="238.4" lengthAdjust="spacingAndGlyphs">Late epiblast</text><circle cx="4137.6" cy="622.1" r="11.6" fill="#6479be"/><text x="4160.9" y="631.9" font-size="39.2" textLength="203.0" lengthAdjust="spacingAndGlyphs">Morula_4.0</text><circle cx="4137.6" cy="678.0" r="11.6" fill="#7a86a8"/><text x="4160.9" y="687.8" font-size="39.2" textLength="194.0" lengthAdjust="spacingAndGlyphs">Prelineage</text><circle cx="4137.6" cy="733.4" r="11.6" fill="#d65a62"/><text x="4160.9" y="743.1" font-size="39.2" textLength="363.5" lengthAdjust="spacingAndGlyphs">Primitive Endoderm</text><circle cx="4606.5" cy="342.4" r="11.6" fill="#cfe0f1"/><text x="4629.8" y="352.2" font-size="39.2" textLength="354.6" lengthAdjust="spacingAndGlyphs">Trophectoderm_5.0</text><circle cx="4606.5" cy="398.8" r="11.6" fill="#c2d6ec"/><text x="4629.8" y="408.6" font-size="39.2" textLength="354.6" lengthAdjust="spacingAndGlyphs">Trophectoderm_6.0</text><circle cx="4606.5" cy="455.1" r="11.6" fill="#b4cde8"/><text x="4629.8" y="464.9" font-size="39.2" textLength="354.6" lengthAdjust="spacingAndGlyphs">Trophectoderm_7.0</text><circle cx="4606.5" cy="511.4" r="11.6" fill="#a3c1e3"/><text x="4629.8" y="521.2" font-size="39.2" textLength="354.6" lengthAdjust="spacingAndGlyphs">Trophectoderm_8.0</text><circle cx="4606.5" cy="567.8" r="11.6" fill="#90b6dd"/><text x="4629.8" y="577.6" font-size="39.2" textLength="354.6" lengthAdjust="spacingAndGlyphs">Trophectoderm_9.0</text><circle cx="4606.5" cy="624.1" r="11.6" fill="#5b93cf"/><text x="4629.8" y="633.9" font-size="39.2" textLength="378.1" lengthAdjust="spacingAndGlyphs">Trophectoderm_10.0</text><circle cx="4606.5" cy="680.3" r="11.6" fill="#f0bb8d"/><text x="4629.8" y="690.1" font-size="39.2" textLength="171.3" lengthAdjust="spacingAndGlyphs">Unknown</text></svg></body></html>
